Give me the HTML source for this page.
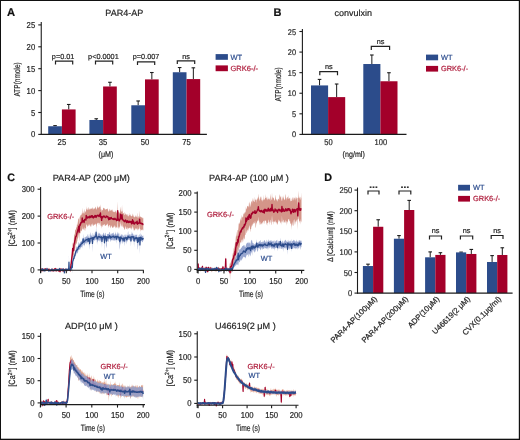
<!DOCTYPE html>
<html><head><meta charset="utf-8"><style>
html,body{margin:0;padding:0;background:#fff;}
body{width:520px;height:440px;overflow:hidden;}
svg{display:block;}
text{font-family:"Liberation Sans",sans-serif;stroke-width:0.2;text-rendering:geometricPrecision;}
svg{filter:blur(0.3px);}
</style></head><body>
<svg width="520" height="440" viewBox="0 0 520 440" font-family="Liberation Sans, sans-serif">
<rect x="0" y="0" width="520" height="440" fill="#ffffff"/>
<text x="7" y="15.9" font-size="11.2" text-anchor="start" fill="#111" stroke="#111" font-weight="bold" >A</text>
<text x="124.3" y="16.3" font-size="9" text-anchor="middle" fill="#262626" stroke="#262626" font-weight="normal" >PAR4-AP</text>
<line x1="55.05" y1="126.25" x2="55.05" y2="125.64" stroke="#1c1c1c" stroke-width="1"/>
<line x1="53.25" y1="125.64" x2="56.85" y2="125.64" stroke="#1c1c1c" stroke-width="1.1"/>
<line x1="68.75" y1="109.43" x2="68.75" y2="104.48" stroke="#1c1c1c" stroke-width="1"/>
<line x1="66.95" y1="104.48" x2="70.55" y2="104.48" stroke="#1c1c1c" stroke-width="1.1"/>
<rect x="48.2" y="126.25" width="13.7" height="8.15" fill="#2c4c8b"/>
<rect x="61.9" y="109.43" width="13.7" height="24.97" fill="#a3002a"/>
<line x1="96.25" y1="119.99" x2="96.25" y2="118.76" stroke="#1c1c1c" stroke-width="1"/>
<line x1="94.45" y1="118.76" x2="98.05" y2="118.76" stroke="#1c1c1c" stroke-width="1.1"/>
<line x1="109.95" y1="86.48" x2="109.95" y2="82.28" stroke="#1c1c1c" stroke-width="1"/>
<line x1="108.15" y1="82.28" x2="111.75" y2="82.28" stroke="#1c1c1c" stroke-width="1.1"/>
<rect x="89.4" y="119.99" width="13.7" height="14.41" fill="#2c4c8b"/>
<rect x="103.1" y="86.48" width="13.7" height="47.92" fill="#a3002a"/>
<line x1="138.15" y1="105.27" x2="138.15" y2="100.98" stroke="#1c1c1c" stroke-width="1"/>
<line x1="136.35" y1="100.98" x2="139.95" y2="100.98" stroke="#1c1c1c" stroke-width="1.1"/>
<line x1="151.85" y1="79.39" x2="151.85" y2="72.51" stroke="#1c1c1c" stroke-width="1"/>
<line x1="150.05" y1="72.51" x2="153.65" y2="72.51" stroke="#1c1c1c" stroke-width="1.1"/>
<rect x="131.3" y="105.27" width="13.7" height="29.13" fill="#2c4c8b"/>
<rect x="145" y="79.39" width="13.7" height="55.01" fill="#a3002a"/>
<line x1="179.65" y1="72.25" x2="179.65" y2="67.52" stroke="#1c1c1c" stroke-width="1"/>
<line x1="177.85" y1="67.52" x2="181.45" y2="67.52" stroke="#1c1c1c" stroke-width="1.1"/>
<line x1="193.35" y1="79.08" x2="193.35" y2="67.82" stroke="#1c1c1c" stroke-width="1"/>
<line x1="191.55" y1="67.82" x2="195.15" y2="67.82" stroke="#1c1c1c" stroke-width="1.1"/>
<rect x="172.8" y="72.25" width="13.7" height="62.15" fill="#2c4c8b"/>
<rect x="186.5" y="79.08" width="13.7" height="55.32" fill="#a3002a"/>
<line x1="41.25" y1="21.9" x2="41.25" y2="134.9" stroke="#1c1c1c" stroke-width="1.1"/>
<line x1="38.25" y1="134.4" x2="41.25" y2="134.4" stroke="#1c1c1c" stroke-width="1.1"/>
<g transform="translate(35.2,137.4) scale(0.9,1)"><text x="0" y="0" font-size="8.6" text-anchor="end" fill="#262626" stroke="#262626">0</text></g>
<line x1="38.25" y1="112.5" x2="41.25" y2="112.5" stroke="#1c1c1c" stroke-width="1.1"/>
<g transform="translate(35.2,115.5) scale(0.9,1)"><text x="0" y="0" font-size="8.6" text-anchor="end" fill="#262626" stroke="#262626">5</text></g>
<line x1="38.25" y1="90.6" x2="41.25" y2="90.6" stroke="#1c1c1c" stroke-width="1.1"/>
<g transform="translate(35.2,93.6) scale(0.9,1)"><text x="0" y="0" font-size="8.6" text-anchor="end" fill="#262626" stroke="#262626">10</text></g>
<line x1="38.25" y1="68.7" x2="41.25" y2="68.7" stroke="#1c1c1c" stroke-width="1.1"/>
<g transform="translate(35.2,71.7) scale(0.9,1)"><text x="0" y="0" font-size="8.6" text-anchor="end" fill="#262626" stroke="#262626">15</text></g>
<line x1="38.25" y1="46.8" x2="41.25" y2="46.8" stroke="#1c1c1c" stroke-width="1.1"/>
<g transform="translate(35.2,49.8) scale(0.9,1)"><text x="0" y="0" font-size="8.6" text-anchor="end" fill="#262626" stroke="#262626">20</text></g>
<line x1="38.25" y1="24.9" x2="41.25" y2="24.9" stroke="#1c1c1c" stroke-width="1.1"/>
<g transform="translate(35.2,27.9) scale(0.9,1)"><text x="0" y="0" font-size="8.6" text-anchor="end" fill="#262626" stroke="#262626">25</text></g>
<line x1="40.7" y1="134.4" x2="206.9" y2="134.4" stroke="#1c1c1c" stroke-width="1.1"/>
<g transform="translate(61.9,144.7) scale(0.9,1)"><text x="0" y="0" font-size="8.6" text-anchor="middle" fill="#262626" stroke="#262626">25</text></g>
<g transform="translate(103.1,144.7) scale(0.9,1)"><text x="0" y="0" font-size="8.6" text-anchor="middle" fill="#262626" stroke="#262626">35</text></g>
<g transform="translate(145,144.7) scale(0.9,1)"><text x="0" y="0" font-size="8.6" text-anchor="middle" fill="#262626" stroke="#262626">50</text></g>
<g transform="translate(186.5,144.7) scale(0.9,1)"><text x="0" y="0" font-size="8.6" text-anchor="middle" fill="#262626" stroke="#262626">75</text></g>
<g transform="translate(106,156.8) scale(0.87,1)"><text x="0" y="0" font-size="8.2" text-anchor="middle" fill="#262626" stroke="#262626">(&#956;M)</text></g>
<g transform="translate(20,79.4) rotate(-90) scale(0.76,1)"><text x="0" y="0" font-size="8.6" text-anchor="middle" fill="#262626" stroke="#262626">ATP(nmole)</text></g>
<path d="M55.5 64.4V61.2H72.7V64.4" fill="none" stroke="#222" stroke-width="1.2" stroke-linejoin="miter" stroke-linecap="butt"/>
<text x="63.1" y="58.5" font-size="7.3" text-anchor="middle" fill="#262626" stroke="#262626" font-weight="normal" >p=0.01</text>
<path d="M95.5 64.4V61.2H112.7V64.4" fill="none" stroke="#222" stroke-width="1.2" stroke-linejoin="miter" stroke-linecap="butt"/>
<text x="103.4" y="58.5" font-size="7.3" text-anchor="middle" fill="#262626" stroke="#262626" font-weight="normal" >p&lt;0.0001</text>
<path d="M137.5 65V61.8H154.7V65" fill="none" stroke="#222" stroke-width="1.2" stroke-linejoin="miter" stroke-linecap="butt"/>
<text x="146.1" y="58.5" font-size="7.3" text-anchor="middle" fill="#262626" stroke="#262626" font-weight="normal" >p=0.007</text>
<path d="M177.3 64V60.8H194.7V64" fill="none" stroke="#222" stroke-width="1.2" stroke-linejoin="miter" stroke-linecap="butt"/>
<text x="186" y="58.5" font-size="7.3" text-anchor="middle" fill="#262626" stroke="#262626" font-weight="normal" >ns</text>
<rect x="215.6" y="54.1" width="12.3" height="5.7" fill="#2c4c8b"/>
<rect x="215.6" y="65.4" width="12.3" height="5.8" fill="#a3002a"/>
<text x="230.5" y="59.7" font-size="7.5" text-anchor="start" fill="#2f4f8f" stroke="#2f4f8f" font-weight="normal" >WT</text>
<text x="230.5" y="71.2" font-size="7.5" text-anchor="start" fill="#b0203f" stroke="#b0203f" font-weight="normal" >GRK6-/-</text>
<text x="273.6" y="16" font-size="11" text-anchor="start" fill="#111" stroke="#111" font-weight="bold" >B</text>
<text x="334.6" y="16.3" font-size="9" text-anchor="start" fill="#262626" stroke="#262626" font-weight="normal" >convulxin</text>
<line x1="319.55" y1="85.42" x2="319.55" y2="79.41" stroke="#1c1c1c" stroke-width="1"/>
<line x1="317.75" y1="79.41" x2="321.35" y2="79.41" stroke="#1c1c1c" stroke-width="1.1"/>
<line x1="336.65" y1="97.11" x2="336.65" y2="84.02" stroke="#1c1c1c" stroke-width="1"/>
<line x1="334.85" y1="84.02" x2="338.45" y2="84.02" stroke="#1c1c1c" stroke-width="1.1"/>
<rect x="311" y="85.42" width="17.1" height="48.98" fill="#2c4c8b"/>
<rect x="328.1" y="97.11" width="17.1" height="37.29" fill="#a3002a"/>
<line x1="371.85" y1="64.02" x2="371.85" y2="55" stroke="#1c1c1c" stroke-width="1"/>
<line x1="370.05" y1="55" x2="373.65" y2="55" stroke="#1c1c1c" stroke-width="1.1"/>
<line x1="388.95" y1="81.26" x2="388.95" y2="72.74" stroke="#1c1c1c" stroke-width="1"/>
<line x1="387.15" y1="72.74" x2="390.75" y2="72.74" stroke="#1c1c1c" stroke-width="1.1"/>
<rect x="363.3" y="64.02" width="17.1" height="70.38" fill="#2c4c8b"/>
<rect x="380.4" y="81.26" width="17.1" height="53.14" fill="#a3002a"/>
<line x1="302.4" y1="29" x2="302.4" y2="134.9" stroke="#1c1c1c" stroke-width="1.1"/>
<line x1="299.4" y1="134.4" x2="302.4" y2="134.4" stroke="#1c1c1c" stroke-width="1.1"/>
<g transform="translate(296,137.4) scale(0.9,1)"><text x="0" y="0" font-size="8.2" text-anchor="end" fill="#262626" stroke="#262626">0</text></g>
<line x1="299.4" y1="113.82" x2="302.4" y2="113.82" stroke="#1c1c1c" stroke-width="1.1"/>
<g transform="translate(296,116.82) scale(0.9,1)"><text x="0" y="0" font-size="8.2" text-anchor="end" fill="#262626" stroke="#262626">5</text></g>
<line x1="299.4" y1="93.24" x2="302.4" y2="93.24" stroke="#1c1c1c" stroke-width="1.1"/>
<g transform="translate(296,96.24) scale(0.9,1)"><text x="0" y="0" font-size="8.2" text-anchor="end" fill="#262626" stroke="#262626">10</text></g>
<line x1="299.4" y1="72.66" x2="302.4" y2="72.66" stroke="#1c1c1c" stroke-width="1.1"/>
<g transform="translate(296,75.66) scale(0.9,1)"><text x="0" y="0" font-size="8.2" text-anchor="end" fill="#262626" stroke="#262626">15</text></g>
<line x1="299.4" y1="52.08" x2="302.4" y2="52.08" stroke="#1c1c1c" stroke-width="1.1"/>
<g transform="translate(296,55.08) scale(0.9,1)"><text x="0" y="0" font-size="8.2" text-anchor="end" fill="#262626" stroke="#262626">20</text></g>
<line x1="299.4" y1="31.5" x2="302.4" y2="31.5" stroke="#1c1c1c" stroke-width="1.1"/>
<g transform="translate(296,34.5) scale(0.9,1)"><text x="0" y="0" font-size="8.2" text-anchor="end" fill="#262626" stroke="#262626">25</text></g>
<line x1="301.9" y1="134.4" x2="406.5" y2="134.4" stroke="#1c1c1c" stroke-width="1.1"/>
<g transform="translate(328.5,144.5) scale(0.9,1)"><text x="0" y="0" font-size="8.4" text-anchor="middle" fill="#262626" stroke="#262626">50</text></g>
<g transform="translate(380.8,144.6) scale(0.9,1)"><text x="0" y="0" font-size="8.4" text-anchor="middle" fill="#262626" stroke="#262626">100</text></g>
<g transform="translate(353.7,156.8) scale(0.87,1)"><text x="0" y="0" font-size="8.2" text-anchor="middle" fill="#262626" stroke="#262626">(ng/ml)</text></g>
<g transform="translate(281.4,84.4) rotate(-90) scale(0.76,1)"><text x="0" y="0" font-size="8.6" text-anchor="middle" fill="#262626" stroke="#262626">ATP(nmole)</text></g>
<path d="M319.8 75.2V71.6H337.5V75.2" fill="none" stroke="#222" stroke-width="1.2" stroke-linejoin="miter" stroke-linecap="butt"/>
<text x="328.8" y="69.4" font-size="7.3" text-anchor="middle" fill="#262626" stroke="#262626" font-weight="normal" >ns</text>
<path d="M371.3 49.9V46.3H389.6V49.9" fill="none" stroke="#222" stroke-width="1.2" stroke-linejoin="miter" stroke-linecap="butt"/>
<text x="380.6" y="43.8" font-size="7.3" text-anchor="middle" fill="#262626" stroke="#262626" font-weight="normal" >ns</text>
<rect x="426" y="54.6" width="12.1" height="5.7" fill="#2c4c8b"/>
<rect x="426" y="65.9" width="12.1" height="5.7" fill="#a3002a"/>
<text x="441" y="59.8" font-size="7.4" text-anchor="start" fill="#2f4f8f" stroke="#2f4f8f" font-weight="normal" >WT</text>
<text x="441" y="71.3" font-size="7.4" text-anchor="start" fill="#b0203f" stroke="#b0203f" font-weight="normal" >GRK6-/-</text>
<text x="7.3" y="180.6" font-size="10.8" text-anchor="start" fill="#111" stroke="#111" font-weight="bold" >C</text>
<text x="52.7" y="181.1" font-size="9.1" text-anchor="start" fill="#262626" stroke="#262626" font-weight="normal" >PAR4-AP (200 &#956;M)</text>
<polygon points="40.6,269.65 40.91,269.25 41.22,269.23 41.53,269.42 41.83,268.23 42.14,270.29 42.45,268.64 42.76,268.67 43.07,269.61 43.38,269.41 43.68,269.3 43.99,267.97 44.3,268.89 44.61,268.23 44.92,268.66 45.23,268.02 45.53,268.61 45.84,268.26 46.15,268.01 46.46,267.88 46.77,268.32 47.08,267.57 47.38,268.65 47.69,268.31 48,268.38 48.31,267.98 48.62,268.77 48.93,269.4 49.24,267.86 49.54,268.15 49.85,268.54 50.16,269.47 50.47,269.18 50.78,269.48 51.09,269.22 51.39,268.96 51.7,268.98 52.01,270.03 52.32,268.73 52.63,268.26 52.94,268.02 53.24,269.75 53.55,268.2 53.86,269.33 54.17,268.88 54.48,268.36 54.79,268.32 55.09,267.48 55.4,270.09 55.71,267.31 56.02,268.71 56.33,268.67 56.64,269.73 56.95,269.57 57.25,269.02 57.56,268.63 57.87,268.23 58.18,268.92 58.49,269.09 58.8,270.3 59.1,269.7 59.41,269.45 59.72,269.6 60.03,270.9 60.34,267.69 60.65,268.12 60.95,268.77 61.26,268.04 61.57,269.01 61.88,268.59 62.19,268.96 62.5,269.37 62.8,269.51 63.11,269.84 63.42,268.45 63.73,269.03 64.04,268.69 64.35,270.94 64.66,269.04 64.96,268.78 65.27,268.64 65.58,268.74 65.89,268.97 66.2,268.9 66.51,268.24 66.81,268.77 67.12,269.37 67.43,268.87 67.74,269.27 68.05,268.82 68.36,268.41 68.66,269.09 68.97,269.04 69.28,269.05 69.59,269.05 69.9,269.71 70.21,269.85 70.51,266.93 70.82,263.41 71.13,262.28 71.44,257.66 71.75,255.17 72.06,250.35 72.37,249.41 72.67,242.15 72.98,243.98 73.29,244.84 73.6,245.17 73.91,238.23 74.22,233.6 74.52,235.77 74.83,233.64 75.14,229.6 75.45,230.37 75.76,229.6 76.07,228.31 76.37,227.37 76.68,227.29 76.99,224.11 77.3,225.14 77.61,223.45 77.92,221.54 78.22,218.08 78.53,218.84 78.84,219.19 79.15,226.04 79.46,219.16 79.77,216.7 80.08,216.8 80.38,215.89 80.69,214.86 81,215.56 81.31,214.66 81.62,214.53 81.93,213.07 82.23,207.38 82.54,214.19 82.85,212.79 83.16,213.38 83.47,210.97 83.78,213.31 84.08,213.78 84.39,213.09 84.7,208.38 85.01,211.14 85.32,212.08 85.63,210.78 85.93,212.95 86.24,206.01 86.55,210.11 86.86,208.8 87.17,210.62 87.48,207.86 87.79,209.85 88.09,210.16 88.4,208.94 88.71,206.5 89.02,209.36 89.33,210.02 89.64,208.73 89.94,208.43 90.25,208.36 90.56,209.5 90.87,209.04 91.18,208.58 91.49,208.77 91.79,208.41 92.1,208.61 92.41,207.05 92.72,208.52 93.03,210.11 93.34,208.2 93.64,209.46 93.95,207.96 94.26,208.66 94.57,208.99 94.88,208.1 95.19,207.58 95.5,206.38 95.8,207.66 96.11,210.03 96.42,209.07 96.73,208.75 97.04,207.67 97.35,206.73 97.65,205.39 97.96,208.28 98.27,207.36 98.58,207.33 98.89,208.7 99.2,206.08 99.5,207.53 99.81,206.24 100.12,207.11 100.43,204.24 100.74,209.69 101.05,208.97 101.35,209.72 101.66,212.22 101.97,209.47 102.28,210.19 102.59,210.38 102.9,209.71 103.21,207.5 103.51,208.51 103.82,207.65 104.13,208.14 104.44,208.35 104.75,209.05 105.06,209.9 105.36,209.83 105.67,208.86 105.98,209.57 106.29,208.96 106.6,209.16 106.91,209 107.21,207.93 107.52,209.41 107.83,209 108.14,210.24 108.45,211.16 108.76,211.86 109.06,211.37 109.37,208.83 109.68,209.12 109.99,211.57 110.3,209.46 110.61,210.35 110.92,211.18 111.22,209.18 111.53,210.48 111.84,209.93 112.15,211.96 112.46,210.12 112.77,209.19 113.07,212.3 113.38,211.95 113.69,211.34 114,211.69 114.31,211.76 114.62,212.6 114.92,211.66 115.23,211.69 115.54,211.3 115.85,210.19 116.16,211.48 116.47,212.87 116.77,213.54 117.08,210.24 117.39,213.56 117.7,201.15 118.01,211.93 118.32,211.97 118.63,211.23 118.93,212.9 119.24,212.49 119.55,212.26 119.86,213.46 120.17,210.99 120.48,206.43 120.78,209.85 121.09,211.46 121.4,211.61 121.71,211.66 122.02,204.77 122.33,212.06 122.63,210.29 122.94,213.71 123.25,213 123.56,213.38 123.87,213.44 124.18,211.38 124.48,215.12 124.79,215.13 125.1,213.93 125.41,212.98 125.72,214.54 126.03,214.56 126.34,215.56 126.64,213.75 126.95,214.71 127.26,214.07 127.57,215.37 127.88,216.14 128.19,216.32 128.49,216.55 128.8,215.44 129.11,212.47 129.42,215.77 129.73,214.65 130.04,215.35 130.34,216.07 130.65,213.87 130.96,215.69 131.27,216.19 131.58,215.83 131.89,216.75 132.19,215.8 132.5,213.25 132.81,214.99 133.12,217.16 133.43,214.34 133.74,216.2 134.05,216.82 134.35,216.8 134.66,217.67 134.97,216.78 135.28,215.05 135.59,216.39 135.9,216.92 136.2,215.97 136.51,217.34 136.82,216.72 137.13,212.44 137.44,216.59 137.75,217.44 138.05,218.15 138.36,217.57 138.67,215.88 138.98,216.43 139.29,216.88 139.6,210.41 139.9,217.33 140.21,216.26 140.52,217.24 140.83,216.53 141.14,217.07 141.45,216.99 141.76,217.78 142.06,217.9 142.37,218.45 142.68,216.94 142.99,218.61 143.3,217.57 143.3,230.72 142.99,229.77 142.68,229.57 142.37,229.39 142.06,230.69 141.76,229.53 141.45,230.48 141.14,229.85 140.83,228.81 140.52,229.77 140.21,231.98 139.9,228.74 139.6,224.5 139.29,228.6 138.98,228.87 138.67,228.83 138.36,229.34 138.05,230.42 137.75,228.85 137.44,230.89 137.13,227.34 136.82,228.27 136.51,229.06 136.2,229.82 135.9,227.75 135.59,229.94 135.28,228.12 134.97,229.64 134.66,230.95 134.35,229.58 134.05,230.02 133.74,228.45 133.43,227.06 133.12,231.19 132.81,227.3 132.5,225.34 132.19,227.52 131.89,228.95 131.58,230.06 131.27,227.57 130.96,228.27 130.65,227.11 130.34,228.79 130.04,228.38 129.73,227.49 129.42,227.83 129.11,228.36 128.8,228.04 128.49,229.03 128.19,228.07 127.88,229.92 127.57,228.03 127.26,227.1 126.95,229.2 126.64,228.42 126.34,229.37 126.03,227.08 125.72,226.12 125.41,229.06 125.1,226.25 124.79,229.69 124.48,229.6 124.18,229.44 123.87,227.17 123.56,228.19 123.25,226.26 122.94,226.83 122.63,226.74 122.33,224.99 122.02,221.13 121.71,226.47 121.4,226.45 121.09,224.97 120.78,224.05 120.48,220.96 120.17,226.25 119.86,226.39 119.55,227.06 119.24,228.7 118.93,226.57 118.63,227.94 118.32,229.03 118.01,225.64 117.7,215.18 117.39,226.82 117.08,228.31 116.77,226.73 116.47,228.48 116.16,226.4 115.85,228.53 115.54,227.39 115.23,226.59 114.92,224.95 114.62,225.89 114.31,226.73 114,226.98 113.69,227.72 113.38,227.18 113.07,225.96 112.77,228.14 112.46,227.3 112.15,228.35 111.84,225.47 111.53,225.74 111.22,227.27 110.92,225.1 110.61,228.41 110.3,227.14 109.99,227.41 109.68,224.67 109.37,225.09 109.06,225.26 108.76,228.22 108.45,226.07 108.14,225.66 107.83,224.88 107.52,223.72 107.21,223.39 106.91,224.68 106.6,225.34 106.29,224.19 105.98,226.1 105.67,225.86 105.36,225.71 105.06,224.98 104.75,224.16 104.44,223.8 104.13,225.9 103.82,224.94 103.51,224.28 103.21,225.61 102.9,224.51 102.59,226.37 102.28,227.13 101.97,224.33 101.66,228.74 101.35,225.9 101.05,226.36 100.74,224.99 100.43,219.96 100.12,226.71 99.81,222.92 99.5,222.77 99.2,224.55 98.89,225.12 98.58,222.58 98.27,222.95 97.96,222.69 97.65,224.22 97.35,222.5 97.04,223.46 96.73,224.62 96.42,228.28 96.11,225.89 95.8,224.48 95.5,223.54 95.19,223.84 94.88,225.07 94.57,225.03 94.26,223.81 93.95,225.7 93.64,224.33 93.34,225.74 93.03,226.37 92.72,224.7 92.41,223 92.1,225.11 91.79,224.35 91.49,224.3 91.18,226.91 90.87,225.41 90.56,227.36 90.25,226 89.94,223.54 89.64,225.58 89.33,225.58 89.02,224.26 88.71,224.62 88.4,225.67 88.09,226.32 87.79,225.07 87.48,227.07 87.17,226.41 86.86,225.1 86.55,224.87 86.24,223.69 85.93,231.48 85.63,228.49 85.32,227.88 85.01,228.53 84.7,226.41 84.39,229.87 84.08,230.86 83.78,228.83 83.47,228.3 83.16,229.96 82.85,229.23 82.54,229.29 82.23,226.22 81.93,230.77 81.62,231.39 81.31,230.48 81,230.34 80.69,230.86 80.38,233.67 80.08,233.11 79.77,233.11 79.46,234.48 79.15,241.73 78.84,233.51 78.53,234.72 78.22,237.17 77.92,238.71 77.61,238.28 77.3,240.92 76.99,241.42 76.68,244.17 76.37,242.9 76.07,244.62 75.76,244.42 75.45,245.59 75.14,249.09 74.83,247.73 74.52,251.23 74.22,250.89 73.91,254.21 73.6,256.86 73.29,255.26 72.98,255.67 72.67,255.23 72.37,257.69 72.06,261.9 71.75,262.04 71.44,264.31 71.13,269.42 70.82,270.58 70.51,272.18 70.21,271.6 69.9,271.14 69.59,270.75 69.28,270.74 68.97,270.6 68.66,271.13 68.36,270.4 68.05,270.57 67.74,271.69 67.43,270.76 67.12,271.07 66.81,270.6 66.51,271.02 66.2,271.58 65.89,270.98 65.58,270.88 65.27,270.25 64.96,270.99 64.66,271.32 64.35,272.44 64.04,270.12 63.73,270.81 63.42,269.83 63.11,272.31 62.8,271.2 62.5,271.21 62.19,271.88 61.88,270.5 61.57,271.74 61.26,270.39 60.95,270.65 60.65,269.84 60.34,270.23 60.03,273.08 59.72,270.73 59.41,270.84 59.1,271.3 58.8,271.56 58.49,271.42 58.18,270.67 57.87,270.87 57.56,271.14 57.25,270.58 56.95,272.18 56.64,271.39 56.33,270.84 56.02,270.03 55.71,270.09 55.4,271.72 55.09,269.89 54.79,270.11 54.48,270.47 54.17,271.01 53.86,271.7 53.55,270.88 53.24,271.73 52.94,271.81 52.63,270.3 52.32,270.04 52.01,271.3 51.7,271.37 51.39,270.42 51.09,270.65 50.78,271.06 50.47,270.87 50.16,271.7 49.85,270.78 49.54,270.89 49.24,270.62 48.93,271.84 48.62,270.3 48.31,270.5 48,271.49 47.69,270.37 47.38,270.34 47.08,270.91 46.77,271.29 46.46,270.09 46.15,269.98 45.84,270.47 45.53,270.1 45.23,269.67 44.92,270.85 44.61,270.33 44.3,271.45 43.99,270.32 43.68,271.42 43.38,271 43.07,271.83 42.76,270.54 42.45,270.19 42.14,271.88 41.83,269.69 41.53,270.7 41.22,271.08 40.91,271.17 40.6,271.56" fill="#cf8a7c" fill-opacity="0.9" stroke="none"/>
<polyline points="40.6,270.39 40.91,270.04 41.22,270.46 41.53,270.02 41.83,268.92 42.14,270.69 42.45,269.29 42.76,270 43.07,270.27 43.38,270.1 43.68,270.04 43.99,269.51 44.3,269.43 44.61,269.45 44.92,269.62 45.23,268.86 45.53,269.26 45.84,269.12 46.15,269.11 46.46,269.37 46.77,269.92 47.08,269.42 47.38,269.59 47.69,269.45 48,269.65 48.31,269.48 48.62,269.59 48.93,270.03 49.24,269.64 49.54,270.02 49.85,269.92 50.16,270.39 50.47,269.88 50.78,270.34 51.09,269.8 51.39,269.76 51.7,270.38 52.01,270.66 52.32,269.4 52.63,269.67 52.94,270.43 53.24,270.35 53.55,269.89 53.86,270.69 54.17,269.95 54.48,269.57 54.79,268.9 55.09,268.98 55.4,270.64 55.71,268.76 56.02,269.33 56.33,269.86 56.64,270.67 56.95,270.52 57.25,269.92 57.56,269.71 57.87,270.04 58.18,269.59 58.49,270.07 58.8,270.96 59.1,270.35 59.41,270.27 59.72,270.17 60.03,271.54 60.34,269.5 60.65,269.26 60.95,269.64 61.26,269.25 61.57,270.14 61.88,269.53 62.19,270.34 62.5,270.47 62.8,270.34 63.11,270.65 63.42,269.17 63.73,269.88 64.04,269.51 64.35,271.3 64.66,270.4 64.96,269.76 65.27,269.39 65.58,269.5 65.89,270.01 66.2,270.09 66.51,269.79 66.81,269.92 67.12,269.99 67.43,269.98 67.74,270 68.05,269.43 68.36,269.36 68.66,269.9 68.97,269.71 69.28,269.77 69.59,270.18 69.9,270.24 70.21,270.5 70.51,268.79 70.82,266.54 71.13,264.46 71.44,260.89 71.75,258.66 72.06,256.17 72.37,253.25 72.67,248.55 72.98,251.13 73.29,249.73 73.6,250.4 73.91,244.88 74.22,243.33 74.52,242.88 74.83,240.71 75.14,239.56 75.45,237.69 75.76,236.62 76.07,236.43 76.37,235.49 76.68,234.38 76.99,232.62 77.3,232.29 77.61,231.05 77.92,229.99 78.22,228.93 78.53,227.4 78.84,226.19 79.15,232.1 79.46,226.48 79.77,225.52 80.08,224.22 80.38,225.11 80.69,222.89 81,222.98 81.31,222.23 81.62,222.68 81.93,222.57 82.23,218.04 82.54,221.7 82.85,221.44 83.16,220.58 83.47,220.91 83.78,220.79 84.08,222.46 84.39,220.43 84.7,219.36 85.01,219.32 85.32,219.89 85.63,219.68 85.93,219.98 86.24,215.35 86.55,217.71 86.86,217.04 87.17,217.98 87.48,217.94 87.79,216.97 88.09,217.72 88.4,216.86 88.71,217.13 89.02,216.95 89.33,217.74 89.64,216.27 89.94,216.1 90.25,216.98 90.56,217.09 90.87,217.52 91.18,216.87 91.49,215.78 91.79,216.55 92.1,216.19 92.41,215.82 92.72,217.44 93.03,217.68 93.34,217.92 93.64,216.79 93.95,216.61 94.26,216.63 94.57,217.13 94.88,215.57 95.19,216 95.5,215.49 95.8,216.88 96.11,217.41 96.42,216.33 96.73,216.44 97.04,215.96 97.35,215.26 97.65,215.44 97.96,215.45 98.27,215.31 98.58,215.52 98.89,216.45 99.2,216.44 99.5,215.66 99.81,214.44 100.12,214.86 100.43,212.96 100.74,217.21 101.05,217.09 101.35,216.92 101.66,220.38 101.97,216.62 102.28,217.41 102.59,217.76 102.9,217.02 103.21,216.12 103.51,216.73 103.82,216.13 104.13,216.03 104.44,216.8 104.75,217.07 105.06,217.08 105.36,217.56 105.67,217.55 105.98,217.44 106.29,215.98 106.6,216.56 106.91,216.45 107.21,216.51 107.52,216.66 107.83,216.52 108.14,218.02 108.45,217.98 108.76,219.7 109.06,218.17 109.37,218.3 109.68,217.71 109.99,219.3 110.3,218.02 110.61,218.18 110.92,218.49 111.22,217.48 111.53,218.37 111.84,218.42 112.15,218.9 112.46,218.74 112.77,218.97 113.07,219.34 113.38,218.57 113.69,218.99 114,219.53 114.31,219.12 114.62,219.37 114.92,218.27 115.23,218.8 115.54,219.36 115.85,219.17 116.16,219.2 116.47,220.54 116.77,220.01 117.08,219.88 117.39,220.27 117.7,210.72 118.01,219.28 118.32,219.65 118.63,219.01 118.93,220.4 119.24,220.93 119.55,219.76 119.86,219.79 120.17,218.87 120.48,214.26 120.78,217.66 121.09,218.32 121.4,218.89 121.71,218.32 122.02,214.82 122.33,218.2 122.63,219.81 122.94,219.88 123.25,219.97 123.56,220.88 123.87,220.66 124.18,221.12 124.48,221.68 124.79,220.96 125.1,220.42 125.41,220.1 125.72,220.34 126.03,221.33 126.34,222.1 126.64,222.59 126.95,222.2 127.26,220.67 127.57,222.05 127.88,222.17 128.19,221.96 128.49,222.56 128.8,221.26 129.11,221.22 129.42,222.19 129.73,221.56 130.04,222.25 130.34,222.18 130.65,221.47 130.96,221.92 131.27,221.76 131.58,223.86 131.89,222.49 132.19,221.8 132.5,219.81 132.81,221.52 133.12,223.44 133.43,221.29 133.74,222 134.05,223.52 134.35,224.05 134.66,223.79 134.97,223 135.28,222.75 135.59,222.47 135.9,222.2 136.2,222.34 136.51,223.14 136.82,222.5 137.13,221.25 137.44,224.21 137.75,223.48 138.05,223.51 138.36,223.02 138.67,223.35 138.98,222.86 139.29,222.85 139.6,219.13 139.9,222.65 140.21,223.38 140.52,223.22 140.83,223.12 141.14,223.85 141.45,223.3 141.76,223.6 142.06,223.63 142.37,223.89 142.68,223.83 142.99,224.65 143.3,224.3" fill="none" stroke="#a3002a" stroke-opacity="1" stroke-width="1.4" stroke-linejoin="round"/>
<polygon points="40.6,270.09 40.91,269.73 41.22,269.27 41.53,269.37 41.83,268.75 42.14,269.65 42.45,268.39 42.76,268.16 43.07,268.53 43.38,271.14 43.68,269.21 43.99,268.68 44.3,269.39 44.61,269.46 44.92,271.12 45.23,268.93 45.53,268.82 45.84,269.11 46.15,268.97 46.46,267.61 46.77,267.77 47.08,268.19 47.38,268.59 47.69,267.42 48,269.57 48.31,270.26 48.62,270.44 48.93,270.09 49.24,268.9 49.54,270.41 49.85,269.56 50.16,268.87 50.47,270.19 50.78,269.23 51.09,269.1 51.39,268.38 51.7,268.29 52.01,269.32 52.32,269.4 52.63,269.7 52.94,269.51 53.24,269.48 53.55,269.1 53.86,269.93 54.17,270.21 54.48,269.67 54.79,269.55 55.09,268.81 55.4,268.89 55.71,269.15 56.02,268.97 56.33,268.59 56.64,269.15 56.95,269.09 57.25,268.67 57.56,268.61 57.87,269.38 58.18,269.26 58.49,269.02 58.8,268.78 59.1,269.01 59.41,267.44 59.72,267.78 60.03,268.73 60.34,269.56 60.65,269.16 60.95,268.88 61.26,269.01 61.57,270.05 61.88,269.57 62.19,269.87 62.5,268.5 62.8,268.51 63.11,268.72 63.42,268.98 63.73,268.71 64.04,269.34 64.35,273.66 64.66,269.7 64.96,268.63 65.27,268.89 65.58,268.39 65.89,269.02 66.2,269.81 66.51,267.83 66.81,268.57 67.12,269.15 67.43,269.88 67.74,268.71 68.05,268.52 68.36,268.98 68.66,268.87 68.97,255.37 69.28,268.29 69.59,269.16 69.9,269.32 70.21,268.82 70.51,269.09 70.82,269.17 71.13,266.94 71.44,266.92 71.75,265.67 72.06,262.98 72.37,266.85 72.67,260.53 72.98,259.26 73.29,258.16 73.6,256.08 73.91,255.5 74.22,253.37 74.52,253.79 74.83,254.09 75.14,252.4 75.45,249.99 75.76,249.65 76.07,247.74 76.37,245.99 76.68,248.16 76.99,246.01 77.3,246.44 77.61,247.17 77.92,246.98 78.22,245.69 78.53,243.08 78.84,241.7 79.15,243.29 79.46,243.44 79.77,244.34 80.08,243.14 80.38,241.53 80.69,242.1 81,241.38 81.31,241.3 81.62,241.28 81.93,240.68 82.23,237.77 82.54,240 82.85,239.18 83.16,233.18 83.47,239.5 83.78,237.4 84.08,239.08 84.39,239.27 84.7,236.92 85.01,237.3 85.32,236.54 85.63,237.63 85.93,237.11 86.24,236.13 86.55,235.76 86.86,237.37 87.17,237.11 87.48,234.54 87.79,234.31 88.09,239.74 88.4,236.19 88.71,236.34 89.02,233.31 89.33,239.16 89.64,244.83 89.94,234.06 90.25,235.9 90.56,233.72 90.87,232.11 91.18,235.11 91.49,235.97 91.79,235.8 92.1,234.98 92.41,243.73 92.72,233.34 93.03,232.93 93.34,238.49 93.64,234.31 93.95,235 94.26,235.45 94.57,235.27 94.88,232.17 95.19,234.87 95.5,234.06 95.8,233.18 96.11,226.57 96.42,233.27 96.73,234.44 97.04,238.08 97.35,232.11 97.65,236.28 97.96,234.67 98.27,234.11 98.58,233.13 98.89,232.13 99.2,233.1 99.5,234.15 99.81,232.81 100.12,234.76 100.43,234.65 100.74,233.5 101.05,235.73 101.35,234.17 101.66,234.79 101.97,241.24 102.28,235.3 102.59,234.25 102.9,234.79 103.21,232.29 103.51,233.13 103.82,233.55 104.13,233.47 104.44,245.93 104.75,234.37 105.06,233.24 105.36,232.71 105.67,233.54 105.98,239.21 106.29,240.38 106.6,241.71 106.91,234.28 107.21,233.73 107.52,234.25 107.83,234.24 108.14,234.07 108.45,234.05 108.76,233.96 109.06,232.15 109.37,232.25 109.68,231.63 109.99,234.65 110.3,234.42 110.61,234.66 110.92,233.02 111.22,234.63 111.53,232.75 111.84,234.43 112.15,233.91 112.46,232.84 112.77,233.3 113.07,233.11 113.38,232.33 113.69,233.29 114,234.74 114.31,234.58 114.62,234.29 114.92,234.89 115.23,231.24 115.54,233.77 115.85,233.62 116.16,233.52 116.47,239.13 116.77,233.9 117.08,233.97 117.39,231.39 117.7,232.91 118.01,234.54 118.32,232.31 118.63,233.53 118.93,234.83 119.24,232.49 119.55,241.48 119.86,241.92 120.17,233.06 120.48,239.44 120.78,235.25 121.09,234.81 121.4,235.46 121.71,233.74 122.02,234.54 122.33,235.3 122.63,233.91 122.94,238.64 123.25,235.33 123.56,235.89 123.87,235.26 124.18,239.92 124.48,234.83 124.79,234.4 125.1,236.36 125.41,233.68 125.72,235.4 126.03,235.66 126.34,233.8 126.64,239.06 126.95,235.19 127.26,235.12 127.57,235.45 127.88,232.61 128.19,231.1 128.49,235.14 128.8,234.77 129.11,233.88 129.42,234.69 129.73,234.6 130.04,234.44 130.34,234.49 130.65,234.5 130.96,239.33 131.27,233.62 131.58,234.33 131.89,231.15 132.19,233.99 132.5,233.71 132.81,232.31 133.12,235.26 133.43,234.35 133.74,234.4 134.05,240.59 134.35,233.86 134.66,236 134.97,235.05 135.28,235.84 135.59,234.13 135.9,235.08 136.2,235.26 136.51,234.24 136.82,235.04 137.13,234.36 137.44,241.97 137.75,242.77 138.05,234.86 138.36,240.12 138.67,236.02 138.98,235.12 139.29,233.99 139.6,235.27 139.9,247.92 140.21,234.54 140.52,232.22 140.83,239.99 141.14,234.73 141.45,234.33 141.76,235.5 142.06,235.79 142.37,236.16 142.68,235.45 142.99,236.27 143.3,234.84 143.3,240.72 142.99,241.22 142.68,242.49 142.37,241.49 142.06,242.1 141.76,240.84 141.45,241.54 141.14,240.01 140.83,245.89 140.52,239.5 140.21,241.63 139.9,254.59 139.6,240.13 139.29,240.68 138.98,241.57 138.67,240.44 138.36,247.62 138.05,239.84 137.75,248.47 137.44,249.8 137.13,240.72 136.82,240.23 136.51,241.23 136.2,241.15 135.9,240.41 135.59,239.89 135.28,241.71 134.97,241.72 134.66,241.94 134.35,241.23 134.05,247.33 133.74,239.13 133.43,241 133.12,240.9 132.81,239.35 132.5,239.57 132.19,240.27 131.89,241.59 131.58,239.86 131.27,238.98 130.96,246.86 130.65,239.7 130.34,241.58 130.04,241.41 129.73,239.49 129.42,239.79 129.11,239.65 128.8,239.61 128.49,240.29 128.19,239.29 127.88,240.68 127.57,242.07 127.26,240.02 126.95,241.12 126.64,244.79 126.34,240.62 126.03,242.91 125.72,240.46 125.41,241.09 125.1,242.79 124.79,240.54 124.48,242.4 124.18,246.32 123.87,242.34 123.56,240.5 123.25,240.35 122.94,244.05 122.63,242.08 122.33,241.38 122.02,244.21 121.71,240.85 121.4,240.71 121.09,239.44 120.78,240.83 120.48,245.04 120.17,243.16 119.86,249.94 119.55,247.6 119.24,240.17 118.93,240.46 118.63,240.99 118.32,239.74 118.01,240.8 117.7,239 117.39,239.13 117.08,240.83 116.77,238.95 116.47,243.95 116.16,239.82 115.85,239.8 115.54,241.45 115.23,238.79 114.92,240.72 114.62,240.47 114.31,239.88 114,240.73 113.69,239.2 113.38,240.9 113.07,240.26 112.77,240.16 112.46,239.09 112.15,240.86 111.84,239.93 111.53,240.19 111.22,240.42 110.92,239.74 110.61,240.83 110.3,242.37 109.99,239.87 109.68,238.5 109.37,239.46 109.06,239.03 108.76,239.86 108.45,242.12 108.14,241.79 107.83,240.4 107.52,241.86 107.21,240.74 106.91,239.39 106.6,248.45 106.29,246.8 105.98,245.76 105.67,238.59 105.36,239.29 105.06,239.41 104.75,240.88 104.44,252.27 104.13,240.43 103.82,239.09 103.51,238.98 103.21,240.84 102.9,239.72 102.59,240.43 102.28,240.18 101.97,247.9 101.66,240.79 101.35,240.54 101.05,244.05 100.74,239.88 100.43,240.22 100.12,241.15 99.81,241.41 99.5,239.47 99.2,240.92 98.89,239.44 98.58,240.41 98.27,240.57 97.96,241.3 97.65,242.81 97.35,240.82 97.04,244.9 96.73,239.74 96.42,239.68 96.11,232.17 95.8,238.75 95.5,240.05 95.19,239.9 94.88,241.23 94.57,240.09 94.26,240.41 93.95,239.46 93.64,240.08 93.34,244.43 93.03,240.39 92.72,240.26 92.41,252.24 92.1,241.12 91.79,242.04 91.49,240.41 91.18,240.85 90.87,243.1 90.56,242.15 90.25,242.66 89.94,241.29 89.64,249.9 89.33,245.69 89.02,241.57 88.71,241.46 88.4,241.13 88.09,245.73 87.79,242.11 87.48,242.21 87.17,243.36 86.86,244.88 86.55,242.98 86.24,242.29 85.93,242.75 85.63,243.13 85.32,243.52 85.01,243.79 84.7,246.63 84.39,244.53 84.08,245.45 83.78,244.93 83.47,245.85 83.16,240.87 82.85,245.6 82.54,248.67 82.23,244.43 81.93,247.36 81.62,246.43 81.31,247.59 81,247.34 80.69,249.98 80.38,247.47 80.08,248.06 79.77,250.13 79.46,249.63 79.15,249.1 78.84,249.21 78.53,249.36 78.22,251.43 77.92,251.96 77.61,253.16 77.3,253.55 76.99,252.79 76.68,252.66 76.37,254.82 76.07,253.46 75.76,253.9 75.45,255.46 75.14,257.05 74.83,258.98 74.52,257.56 74.22,258.35 73.91,260.36 73.6,260.77 73.29,261.06 72.98,262.01 72.67,263.99 72.37,273.63 72.06,266.95 71.75,268.98 71.44,268.55 71.13,269.88 70.82,271.64 70.51,270.02 70.21,269.82 69.9,270.84 69.59,270.8 69.28,269.91 68.97,257.11 68.66,270.14 68.36,270.29 68.05,269.76 67.74,270.09 67.43,270.99 67.12,271.46 66.81,269.65 66.51,269.86 66.2,271.07 65.89,269.7 65.58,270.05 65.27,269.8 64.96,271.04 64.66,270.96 64.35,274.61 64.04,270.83 63.73,270.41 63.42,269.68 63.11,269.65 62.8,269.88 62.5,270.2 62.19,270.95 61.88,270.86 61.57,271.49 61.26,270.26 60.95,270.04 60.65,270.13 60.34,271.32 60.03,270.7 59.72,269.07 59.41,269.27 59.1,269.9 58.8,270.08 58.49,270.14 58.18,270.82 57.87,270.74 57.56,270.1 57.25,270.8 56.95,270 56.64,270.42 56.33,269.92 56.02,270.81 55.71,271.11 55.4,270.16 55.09,270.19 54.79,270.77 54.48,270.29 54.17,271.08 53.86,271.2 53.55,271.08 53.24,270.35 52.94,270.96 52.63,271.18 52.32,270.56 52.01,270.21 51.7,269.94 51.39,269.86 51.09,270.92 50.78,271.36 50.47,271.89 50.16,271.38 49.85,271.28 49.54,271.44 49.24,270.99 48.93,271.97 48.62,272.16 48.31,271.54 48,270.35 47.69,270.08 47.38,269.76 47.08,269.17 46.77,269.71 46.46,269.64 46.15,269.82 45.84,270.71 45.53,269.82 45.23,270.78 44.92,272.62 44.61,270.91 44.3,270.45 43.99,270.12 43.68,270.94 43.38,272.46 43.07,269.85 42.76,269.5 42.45,270.71 42.14,270.33 41.83,269.84 41.53,271.52 41.22,270.65 40.91,271.38 40.6,270.8" fill="#8e9dcb" fill-opacity="0.9" stroke="none"/>
<polyline points="40.6,270.48 40.91,270.15 41.22,270.22 41.53,270.25 41.83,269.38 42.14,269.98 42.45,269.11 42.76,268.86 43.07,269.15 43.38,270.57 43.68,269.82 43.99,269.74 44.3,270.06 44.61,270.15 44.92,271.02 45.23,269.91 45.53,269.5 45.84,269.8 46.15,269.43 46.46,269.21 46.77,269.1 47.08,268.88 47.38,269.34 47.69,269.61 48,269.85 48.31,270.61 48.62,270.82 48.93,270.64 49.24,270.44 49.54,270.77 49.85,270.59 50.16,270.52 50.47,270.73 50.78,270.48 51.09,270.06 51.39,269.5 51.7,269.1 52.01,269.77 52.32,270.04 52.63,270.44 52.94,270.29 53.24,269.9 53.55,270.14 53.86,270.81 54.17,270.59 54.48,270 54.79,270.16 55.09,269.91 55.4,269.67 55.71,270.04 56.02,269.9 56.33,269.53 56.64,269.87 56.95,269.46 57.25,269.6 57.56,269.54 57.87,270.35 58.18,269.94 58.49,269.83 58.8,269.45 59.1,269.59 59.41,268.67 59.72,268.76 60.03,269.67 60.34,270.31 60.65,269.53 60.95,269.58 61.26,269.85 61.57,270.45 61.88,270.2 62.19,270.47 62.5,269.28 62.8,269 63.11,269.14 63.42,269.34 63.73,269.6 64.04,270.53 64.35,272.9 64.66,270.53 64.96,269.94 65.27,269.24 65.58,269.31 65.89,269.32 66.2,270.36 66.51,269.34 66.81,269.09 67.12,269.91 67.43,270.16 67.74,269.5 68.05,269.25 68.36,269.71 68.66,269.39 68.97,262.15 69.28,268.95 69.59,269.81 69.9,269.59 70.21,269.14 70.51,269.4 70.82,270.02 71.13,268.77 71.44,267.87 71.75,266.65 72.06,265.4 72.37,267.3 72.67,261.96 72.98,260.71 73.29,259.53 73.6,258.46 73.91,258.68 74.22,256.27 74.52,255.91 74.83,255.76 75.14,254.4 75.45,252.6 75.76,251.66 76.07,251.34 76.37,250.34 76.68,250.44 76.99,249.72 77.3,249.27 77.61,249.68 77.92,249.26 78.22,248.12 78.53,246.86 78.84,246.11 79.15,246.02 79.46,246.47 79.77,246.54 80.08,245.53 80.38,244.71 80.69,244.92 81,244.35 81.31,243.63 81.62,243.63 81.93,242.96 82.23,242.26 82.54,243.29 82.85,242.15 83.16,238.73 83.47,242.35 83.78,241.63 84.08,241.97 84.39,241.67 84.7,240.95 85.01,240.94 85.32,240.36 85.63,240.39 85.93,239.73 86.24,239.82 86.55,239.52 86.86,239.78 87.17,239.53 87.48,239.35 87.79,239.07 88.09,241.41 88.4,238.54 88.71,238.59 89.02,238.28 89.33,240.63 89.64,243.76 89.94,239.02 90.25,238.93 90.56,238.63 90.87,238.44 91.18,237.92 91.49,238.24 91.79,238.03 92.1,238.29 92.41,243.49 92.72,237.42 93.03,237.6 93.34,239.41 93.64,237.28 93.95,237.3 94.26,237.9 94.57,237.47 94.88,236.63 95.19,237.11 95.5,236.42 95.8,236.12 96.11,232.19 96.42,236.11 96.73,236.97 97.04,238.9 97.35,237.44 97.65,238.9 97.96,236.87 98.27,237.18 98.58,236.69 98.89,236.43 99.2,237.13 99.5,236.98 99.81,236.67 100.12,237.21 100.43,237.56 100.74,237.69 101.05,237.97 101.35,236.7 101.66,237.5 101.97,241.52 102.28,237.64 102.59,237.35 102.9,237.18 103.21,237.49 103.51,236.5 103.82,235.96 104.13,236.04 104.44,242.79 104.75,236.67 105.06,236.34 105.36,236.24 105.67,236.37 105.98,239.22 106.29,241.15 106.6,241.19 106.91,236.67 107.21,236.72 107.52,237.48 107.83,237.62 108.14,237.25 108.45,237.97 108.76,236.95 109.06,236.21 109.37,235.7 109.68,236.14 109.99,237.19 110.3,238.21 110.61,237.43 110.92,236.47 111.22,237.62 111.53,237.51 111.84,236.98 112.15,236.95 112.46,236.88 112.77,236.45 113.07,236.05 113.38,236.82 113.69,236.5 114,237.17 114.31,237.54 114.62,237.6 114.92,237.31 115.23,236.4 115.54,236.48 115.85,236.83 116.16,236.72 116.47,239.25 116.77,236.17 117.08,237.25 117.39,236.25 117.7,236.23 118.01,236.94 118.32,237.39 118.63,237.78 118.93,237.18 119.24,237.45 119.55,240.86 119.86,241.74 120.17,236.97 120.48,240.12 120.78,237.46 121.09,237.22 121.4,238.39 121.71,238.32 122.02,238.45 122.33,238.53 122.63,238.47 122.94,240.16 123.25,237.98 123.56,238.32 123.87,238.52 124.18,241.29 124.48,238.73 124.79,237.69 125.1,238.53 125.41,237.94 125.72,237.69 126.03,237.96 126.34,237.86 126.64,239.74 126.95,237.89 127.26,237.4 127.57,239 127.88,237.39 128.19,236.22 128.49,237.31 128.8,237.05 129.11,237.12 129.42,237.55 129.73,237 130.04,237.15 130.34,237.63 130.65,237.35 130.96,240.91 131.27,236.81 131.58,236.7 131.89,236.96 132.19,236.51 132.5,236.71 132.81,237.14 133.12,237.77 133.43,237.21 133.74,236.58 134.05,240.97 134.35,238.08 134.66,238.65 134.97,238.92 135.28,238.55 135.59,237.69 135.9,238.03 136.2,238.28 136.51,237.63 136.82,238 137.13,238.45 137.44,242.48 137.75,242.07 138.05,237.52 138.36,241.62 138.67,238.22 138.98,238.79 139.29,238.33 139.6,237.56 139.9,244.96 140.21,237.53 140.52,237.21 140.83,240.16 141.14,237.68 141.45,238.6 141.76,238.51 142.06,238.38 142.37,239.31 142.68,239.49 142.99,238.92 143.3,237.84" fill="none" stroke="#2c4c8b" stroke-opacity="1" stroke-width="1.2" stroke-linejoin="round"/>
<line x1="40.6" y1="186.9" x2="40.6" y2="273" stroke="#1c1c1c" stroke-width="1.1"/>
<line x1="37.6" y1="269.9" x2="40.6" y2="269.9" stroke="#1c1c1c" stroke-width="1.1"/>
<g transform="translate(34.6,272.9) scale(0.9,1)"><text x="0" y="0" font-size="8.6" text-anchor="end" fill="#262626" stroke="#262626">0</text></g>
<line x1="37.6" y1="243" x2="40.6" y2="243" stroke="#1c1c1c" stroke-width="1.1"/>
<g transform="translate(34.6,246) scale(0.9,1)"><text x="0" y="0" font-size="8.6" text-anchor="end" fill="#262626" stroke="#262626">100</text></g>
<line x1="37.6" y1="216.1" x2="40.6" y2="216.1" stroke="#1c1c1c" stroke-width="1.1"/>
<g transform="translate(34.6,219.1) scale(0.9,1)"><text x="0" y="0" font-size="8.6" text-anchor="end" fill="#262626" stroke="#262626">200</text></g>
<line x1="37.6" y1="189.2" x2="40.6" y2="189.2" stroke="#1c1c1c" stroke-width="1.1"/>
<g transform="translate(34.6,192.2) scale(0.9,1)"><text x="0" y="0" font-size="8.6" text-anchor="end" fill="#262626" stroke="#262626">300</text></g>
<line x1="40.1" y1="270.3" x2="143.8" y2="270.3" stroke="#1c1c1c" stroke-width="1.1"/>
<line x1="40.6" y1="270.3" x2="40.6" y2="273.3" stroke="#1c1c1c" stroke-width="1.1"/>
<g transform="translate(40.6,283.8) scale(0.9,1)"><text x="0" y="0" font-size="8.6" text-anchor="middle" fill="#262626" stroke="#262626">0</text></g>
<line x1="66.3" y1="270.3" x2="66.3" y2="273.3" stroke="#1c1c1c" stroke-width="1.1"/>
<g transform="translate(66.3,283.8) scale(0.9,1)"><text x="0" y="0" font-size="8.6" text-anchor="middle" fill="#262626" stroke="#262626">50</text></g>
<line x1="92" y1="270.3" x2="92" y2="273.3" stroke="#1c1c1c" stroke-width="1.1"/>
<g transform="translate(92,283.8) scale(0.9,1)"><text x="0" y="0" font-size="8.6" text-anchor="middle" fill="#262626" stroke="#262626">100</text></g>
<line x1="117.7" y1="270.3" x2="117.7" y2="273.3" stroke="#1c1c1c" stroke-width="1.1"/>
<g transform="translate(117.7,283.8) scale(0.9,1)"><text x="0" y="0" font-size="8.6" text-anchor="middle" fill="#262626" stroke="#262626">150</text></g>
<line x1="143.4" y1="270.3" x2="143.4" y2="273.3" stroke="#1c1c1c" stroke-width="1.1"/>
<g transform="translate(143.4,283.8) scale(0.9,1)"><text x="0" y="0" font-size="8.6" text-anchor="middle" fill="#262626" stroke="#262626">200</text></g>
<g transform="translate(92.3,296.6) scale(0.74,1)"><text x="0" y="0" font-size="9" text-anchor="middle" fill="#262626" stroke="#262626">Time (s)</text></g>
<g transform="translate(14.9,228.3) rotate(-90) scale(0.82,1)"><text x="0" y="0" font-size="9" text-anchor="middle" fill="#262626" stroke="#262626">[Ca<tspan font-size="6" dy="-3.4">2+</tspan><tspan dy="3.4">]</tspan> (nM)</text></g>
<text x="47.2" y="218.8" font-size="7.4" text-anchor="start" fill="#b0203f" stroke="#b0203f" font-weight="normal" >GRK6-/-</text>
<text x="100.2" y="258.5" font-size="7.4" text-anchor="start" fill="#2f4f8f" stroke="#2f4f8f" font-weight="normal" >WT</text>
<text x="209.1" y="181" font-size="9.1" text-anchor="start" fill="#262626" stroke="#262626" font-weight="normal" >PAR4-AP (100 &#956;M )</text>
<polygon points="198.1,260.31 198.41,268.03 198.72,266.03 199.03,268.32 199.34,267.53 199.65,267.82 199.96,267.67 200.27,267.61 200.58,268.21 200.89,268.43 201.2,267.08 201.52,268.14 201.83,268.07 202.14,268.24 202.45,265.03 202.76,267.26 203.07,267.38 203.38,267.76 203.69,268.3 204,268.64 204.31,268 204.62,268 204.93,267.73 205.24,266.05 205.55,267.01 205.86,267.7 206.17,267.61 206.48,268.34 206.79,265.77 207.1,269.26 207.41,268.58 207.73,270.61 208.04,267.79 208.35,267.88 208.66,266.17 208.97,268.39 209.28,269.22 209.59,268.21 209.9,267.31 210.21,267.6 210.52,267.23 210.83,266.19 211.14,269.49 211.45,268.43 211.76,267.86 212.07,268.17 212.38,267.31 212.69,268.92 213,268.78 213.31,268.07 213.62,267.75 213.94,268.79 214.25,268.9 214.56,267.9 214.87,267.26 215.18,268.86 215.49,267.19 215.8,269.38 216.11,268.63 216.42,267.77 216.73,267.68 217.04,268.27 217.35,268.38 217.66,267.72 217.97,267.29 218.28,266.54 218.59,267.68 218.9,266.66 219.21,268.65 219.52,267.67 219.84,267.86 220.15,268.4 220.46,268.84 220.77,267.87 221.08,268.42 221.39,268.49 221.7,267.35 222.01,268.2 222.32,267.67 222.63,268.36 222.94,265.28 223.25,268.05 223.56,268.87 223.87,269.06 224.18,268.54 224.49,267.38 224.8,266.41 225.11,265.69 225.42,267.28 225.73,254.55 226.05,268.37 226.36,267.98 226.67,267.41 226.98,268.04 227.29,267.67 227.6,267.27 227.91,268.09 228.22,268.31 228.53,268.9 228.84,269.18 229.15,269.57 229.46,267.19 229.77,263.17 230.08,263.81 230.39,263.02 230.7,261.62 231.01,264.64 231.32,260.75 231.63,260.76 231.94,259.16 232.26,257.94 232.57,255.02 232.88,253.25 233.19,252.71 233.5,252.29 233.81,247.44 234.12,249.76 234.43,246.89 234.74,245.73 235.05,242.2 235.36,244.98 235.67,239 235.98,236.05 236.29,231.22 236.6,237 236.91,235.46 237.22,235.96 237.53,230.83 237.84,229.72 238.15,230.54 238.46,227.55 238.78,223.01 239.09,224.42 239.4,222.02 239.71,224.03 240.02,221.73 240.33,219.7 240.64,217.9 240.95,220.27 241.26,220.44 241.57,214.46 241.88,217.79 242.19,217.72 242.5,216.65 242.81,216.38 243.12,216.9 243.43,213.36 243.74,214.41 244.05,212.57 244.36,214.45 244.67,212.5 244.99,212.43 245.3,211.19 245.61,213.45 245.92,206.33 246.23,209.69 246.54,208.72 246.85,208.32 247.16,205.48 247.47,206.77 247.78,206.02 248.09,206.11 248.4,206.46 248.71,207.64 249.02,201.51 249.33,202.78 249.64,203.82 249.95,207.5 250.26,205.14 250.57,202.83 250.88,207.45 251.2,201.27 251.51,201.79 251.82,201.11 252.13,203.92 252.44,197.31 252.75,202.09 253.06,198.16 253.37,200.62 253.68,201.28 253.99,201.44 254.3,202.37 254.61,201.14 254.92,196.7 255.23,200.21 255.54,199.58 255.85,199.29 256.16,202.88 256.47,199.98 256.78,199.45 257.09,199.9 257.41,197.2 257.72,198.78 258.03,199.41 258.34,193.54 258.65,196.84 258.96,197.85 259.27,199.45 259.58,201.26 259.89,199.35 260.2,196.83 260.51,196.47 260.82,198.67 261.13,200.31 261.44,200.46 261.75,196.12 262.06,198.93 262.37,201.08 262.68,199.82 262.99,202.44 263.3,194.64 263.62,200.06 263.93,199.59 264.24,200.17 264.55,199.01 264.86,198.91 265.17,193.94 265.48,198.37 265.79,197.85 266.1,198.33 266.41,196.56 266.72,199.96 267.03,196.29 267.34,199.25 267.65,199.37 267.96,200.43 268.27,197.31 268.58,198.92 268.89,199.24 269.2,199.38 269.51,198.03 269.83,199.52 270.14,201.31 270.45,197.08 270.76,193.73 271.07,198.74 271.38,200.09 271.69,200.15 272,192.46 272.31,198.06 272.62,196.6 272.93,199.93 273.24,197.68 273.55,197.87 273.86,197.65 274.17,200.58 274.48,200.53 274.79,200.36 275.1,197.48 275.41,194.58 275.72,198.3 276.04,199.46 276.35,198.96 276.66,200.08 276.97,200.71 277.28,200.23 277.59,202.12 277.9,198.99 278.21,199.08 278.52,198.39 278.83,199.59 279.14,200.2 279.45,196.16 279.76,194.08 280.07,196.45 280.38,197.48 280.69,195.41 281,198.42 281.31,200.13 281.62,201.3 281.93,195.66 282.25,199.32 282.56,195.81 282.87,201.29 283.18,196.74 283.49,198.92 283.8,195.05 284.11,200.5 284.42,199.12 284.73,199.94 285.04,199.25 285.35,193.89 285.66,195.12 285.97,199.04 286.28,197.32 286.59,200.83 286.9,198.34 287.21,196.67 287.52,196.92 287.83,199.32 288.14,194.89 288.46,198.39 288.77,198.94 289.08,198.45 289.39,198 289.7,198.69 290.01,197.24 290.32,199.72 290.63,201.21 290.94,201.36 291.25,200.9 291.56,201.03 291.87,198.52 292.18,198.46 292.49,196.73 292.8,200.5 293.11,200.09 293.42,196.39 293.73,201.11 294.04,197.1 294.35,198.51 294.67,197.75 294.98,200.33 295.29,197.07 295.6,200.99 295.91,196.27 296.22,197.66 296.53,197.53 296.84,199.38 297.15,197.87 297.46,197.95 297.77,206.95 298.08,197.43 298.39,197.63 298.7,190.86 299.01,198.14 299.32,198.06 299.63,196.14 299.94,199.42 300.25,200.11 300.56,197.99 300.88,196.45 301.19,198.44 301.5,192.37 301.5,221 301.19,222.5 300.88,218.56 300.56,224.77 300.25,220.53 299.94,221.57 299.63,220.49 299.32,223.17 299.01,220.37 298.7,215.08 298.39,219.32 298.08,218.79 297.77,229.89 297.46,218.38 297.15,219.79 296.84,220.38 296.53,222.17 296.22,219.35 295.91,221.68 295.6,221.35 295.29,223.07 294.98,224.88 294.67,222.94 294.35,219.56 294.04,219.53 293.73,220.74 293.42,225.6 293.11,225.69 292.8,225.21 292.49,223.32 292.18,221.22 291.87,230.01 291.56,222.68 291.25,226.83 290.94,224.07 290.63,223.5 290.32,223.57 290.01,220.38 289.7,221.47 289.39,221.19 289.08,218.99 288.77,218.97 288.46,219.44 288.14,219.57 287.83,223.9 287.52,221.29 287.21,221.81 286.9,221.42 286.59,225.77 286.28,221.09 285.97,221.3 285.66,219.42 285.35,222.82 285.04,222.56 284.73,222.81 284.42,221.13 284.11,222.31 283.8,222.77 283.49,220.49 283.18,219.6 282.87,221.05 282.56,222.66 282.25,220.85 281.93,215.41 281.62,224.92 281.31,222.01 281,221.07 280.69,222.8 280.38,223.43 280.07,221.5 279.76,220.97 279.45,220.06 279.14,222.08 278.83,219.37 278.52,220.36 278.21,221.78 277.9,222.65 277.59,225.55 277.28,223.3 276.97,224.39 276.66,222.44 276.35,221.84 276.04,223.23 275.72,220.63 275.41,222.74 275.1,219.4 274.79,221.99 274.48,221.44 274.17,221.71 273.86,224.77 273.55,221.35 273.24,221.61 272.93,222.13 272.62,221.81 272.31,219.5 272,214.98 271.69,220.92 271.38,224.41 271.07,224.98 270.76,219.87 270.45,219.99 270.14,222.8 269.83,221.35 269.51,225.1 269.2,221.39 268.89,222.77 268.58,220.03 268.27,219.41 267.96,222.97 267.65,222.81 267.34,223 267.03,225.95 266.72,221.67 266.41,225.3 266.1,220.39 265.79,221.14 265.48,219.88 265.17,220.78 264.86,221.5 264.55,219.99 264.24,224.56 263.93,221.42 263.62,220.8 263.3,221.03 262.99,224.61 262.68,222.43 262.37,222 262.06,223.04 261.75,224.76 261.44,223.27 261.13,223.38 260.82,221.58 260.51,224.74 260.2,224.01 259.89,224.99 259.58,222.64 259.27,222 258.96,220.12 258.65,220.93 258.34,216.6 258.03,221.31 257.72,221.28 257.41,219.91 257.09,221.44 256.78,223.84 256.47,221.91 256.16,224.4 255.85,228.08 255.54,227.34 255.23,221.54 254.92,221.1 254.61,223.44 254.3,222.84 253.99,223.75 253.68,224.18 253.37,221.95 253.06,223.03 252.75,224.2 252.44,224.99 252.13,226.08 251.82,227.04 251.51,224.4 251.2,228.7 250.88,228.98 250.57,229.09 250.26,232.55 249.95,228.84 249.64,226.14 249.33,224.94 249.02,227.01 248.71,231.29 248.4,226.66 248.09,230.65 247.78,229.23 247.47,232.35 247.16,229.59 246.85,230.92 246.54,232.89 246.23,233.3 245.92,226.45 245.61,234.29 245.3,234.95 244.99,235.07 244.67,238.4 244.36,238.79 244.05,239.66 243.74,235.94 243.43,241.97 243.12,238.09 242.81,240.66 242.5,238.81 242.19,242.65 241.88,240.32 241.57,239.22 241.26,242.6 240.95,242.71 240.64,242.51 240.33,241.65 240.02,244.04 239.71,246 239.4,247.72 239.09,248.22 238.78,246.46 238.46,250.39 238.15,251.19 237.84,248.79 237.53,253.4 237.22,252.61 236.91,255.53 236.6,254.71 236.29,252.44 235.98,254.44 235.67,256.14 235.36,262.65 235.05,258.03 234.74,262.52 234.43,260.88 234.12,262.98 233.81,265.09 233.5,266.79 233.19,266.86 232.88,263.81 232.57,265.83 232.26,269.41 231.94,273.83 231.63,270.16 231.32,272.87 231.01,272.46 230.7,273.51 230.39,270.32 230.08,280.16 229.77,272.7 229.46,271.87 229.15,272.1 228.84,271.7 228.53,270.94 228.22,270.64 227.91,271.58 227.6,270.1 227.29,270.65 226.98,270.84 226.67,270.38 226.36,270.49 226.05,271.8 225.73,257.88 225.42,270.2 225.11,269.2 224.8,269.76 224.49,270.96 224.18,271.38 223.87,270.85 223.56,271.34 223.25,270.84 222.94,267.33 222.63,270.55 222.32,270.48 222.01,270.52 221.7,271.18 221.39,270.37 221.08,271.69 220.77,271.26 220.46,271.2 220.15,271.67 219.84,270.33 219.52,270.2 219.21,271.58 218.9,269.85 218.59,269.74 218.28,269.45 217.97,271.11 217.66,270.86 217.35,270.7 217.04,271.3 216.73,271.21 216.42,271.62 216.11,271.36 215.8,271 215.49,271.49 215.18,271.85 214.87,269.69 214.56,270.7 214.25,271.32 213.94,271.01 213.62,269.92 213.31,270.36 213,271.28 212.69,271.33 212.38,271.3 212.07,270.51 211.76,270.74 211.45,272.14 211.14,271.88 210.83,268.6 210.52,270.05 210.21,270.83 209.9,270.37 209.59,270.03 209.28,271.07 208.97,270.74 208.66,268.64 208.35,269.97 208.04,270.53 207.73,273.3 207.41,270.85 207.1,272.14 206.79,267.94 206.48,271.83 206.17,270.69 205.86,269.87 205.55,269.96 205.24,269.42 204.93,269.88 204.62,270.77 204.31,271.33 204,271.02 203.69,270.9 203.38,271.73 203.07,270.29 202.76,270.39 202.45,267.48 202.14,270.72 201.83,270.65 201.52,270.9 201.2,269 200.89,270.57 200.58,271.97 200.27,270.34 199.96,269.58 199.65,269.73 199.34,269.23 199.03,270.1 198.72,268.81 198.41,270.74 198.1,263.37" fill="#cf8a7c" fill-opacity="0.9" stroke="none"/>
<polyline points="198.1,263.45 198.41,269.12 198.72,267.39 199.03,269.11 199.34,268.32 199.65,268.96 199.96,268.66 200.27,269.3 200.58,269.71 200.89,269.29 201.2,268.15 201.52,269.53 201.83,269.29 202.14,269.73 202.45,266.46 202.76,269.23 203.07,269.18 203.38,269.54 203.69,269.91 204,269.53 204.31,269.81 204.62,269.76 204.93,269.08 205.24,268.07 205.55,268.64 205.86,268.88 206.17,268.67 206.48,269.13 206.79,267.42 207.1,270.93 207.41,269.88 207.73,271.64 208.04,269.73 208.35,268.98 208.66,267.5 208.97,269.81 209.28,270.01 209.59,269.19 209.9,269.58 210.21,269.56 210.52,269.07 210.83,267.92 211.14,270.28 211.45,269.39 211.76,269.72 212.07,269.64 212.38,270.27 212.69,269.73 213,269.65 213.31,269.28 213.62,268.76 213.94,270.09 214.25,270.24 214.56,269.88 214.87,268.87 215.18,269.98 215.49,269.65 215.8,270.23 216.11,270.01 216.42,269.13 216.73,269.29 217.04,269.59 217.35,269.68 217.66,269.15 217.97,269.03 218.28,268.28 218.59,268.91 218.9,268.79 219.21,269.57 219.52,269.39 219.84,268.99 220.15,269.53 220.46,269.65 220.77,269.11 221.08,269.56 221.39,269.36 221.7,269.07 222.01,269.05 222.32,269.46 222.63,269.34 222.94,266.92 223.25,269.67 223.56,270.27 223.87,269.87 224.18,270.06 224.49,268.93 224.8,268.73 225.11,268.09 225.42,268.19 225.73,258.89 226.05,269.5 226.36,269.72 226.67,269.41 226.98,269.22 227.29,269.1 227.6,269.15 227.91,269.21 228.22,269.48 228.53,270.17 228.84,270.62 229.15,270.76 229.46,269.76 229.77,269.14 230.08,272.7 230.39,266.99 230.7,267.46 231.01,267.3 231.32,266.62 231.63,265.36 231.94,265.82 232.26,262.68 232.57,259.87 232.88,259.21 233.19,259.1 233.5,258.25 233.81,256.31 234.12,255.4 234.43,254.84 234.74,254.29 235.05,251.23 235.36,254.69 235.67,248.09 235.98,246.87 236.29,242.68 236.6,245.48 236.91,244.12 237.22,243.93 237.53,243.16 237.84,239.42 238.15,242.06 238.46,239.15 238.78,236.48 239.09,236.87 239.4,235.17 239.71,234.3 240.02,232.64 240.33,231.8 240.64,231.1 240.95,232 241.26,230.8 241.57,229.46 241.88,228.99 242.19,228.94 242.5,227.73 242.81,228.74 243.12,227.3 243.43,227.06 243.74,226.34 244.05,227.14 244.36,224.51 244.67,224.92 244.99,225.1 245.3,223.8 245.61,223.39 245.92,217.96 246.23,221.69 246.54,221.05 246.85,219.72 247.16,219.87 247.47,217.86 247.78,217.42 248.09,216.5 248.4,216.07 248.71,219.39 249.02,215.26 249.33,214.4 249.64,215.24 249.95,217.31 250.26,216.74 250.57,218.22 250.88,218 251.2,215.13 251.51,213.49 251.82,214.17 252.13,214.13 252.44,212.92 252.75,212.26 253.06,211.86 253.37,212.24 253.68,212.31 253.99,212.91 254.3,212.95 254.61,212.58 254.92,210.78 255.23,211.9 255.54,213.25 255.85,212.81 256.16,212.78 256.47,212.34 256.78,211.34 257.09,210.93 257.41,210.14 257.72,209.2 258.03,209.91 258.34,206.79 258.65,209.81 258.96,209.83 259.27,210.71 259.58,211.21 259.89,211.32 260.2,210.93 260.51,211.8 260.82,210.72 261.13,211.14 261.44,210.43 261.75,211.31 262.06,211.81 262.37,211.32 262.68,212.02 262.99,212.37 263.3,211.47 263.62,210.13 263.93,211.47 264.24,212.98 264.55,210.15 264.86,209.25 265.17,209.44 265.48,209.35 265.79,210.99 266.1,209.69 266.41,211.12 266.72,210.43 267.03,210.5 267.34,211.07 267.65,209.59 267.96,210.88 268.27,208.2 268.58,208.92 268.89,209.65 269.2,210.88 269.51,209.53 269.83,210.07 270.14,211.11 270.45,209.92 270.76,208.35 271.07,209.75 271.38,210.67 271.69,209.97 272,204.47 272.31,209.67 272.62,210.53 272.93,209.49 273.24,211.11 273.55,211.25 273.86,212.22 274.17,211.43 274.48,210.84 274.79,211.1 275.1,208.91 275.41,209.94 275.72,210.36 276.04,210.84 276.35,209.99 276.66,211.04 276.97,210.55 277.28,211.15 277.59,212.46 277.9,210.79 278.21,209.44 278.52,209.95 278.83,209.36 279.14,210.1 279.45,209.47 279.76,210.87 280.07,209.94 280.38,210.66 280.69,210.23 281,210.25 281.31,211.81 281.62,211.9 281.93,206.51 282.25,210.51 282.56,211.08 282.87,211.27 283.18,208.96 283.49,209.91 283.8,209.7 284.11,210.5 284.42,211.3 284.73,211.16 285.04,210.83 285.35,210.27 285.66,208.82 285.97,209.41 286.28,210.08 286.59,210.77 286.9,209.93 287.21,209.07 287.52,210.57 287.83,210.23 288.14,208.75 288.46,209.31 288.77,208.86 289.08,208.62 289.39,210.26 289.7,209.24 290.01,209.61 290.32,210.53 290.63,211.71 290.94,213.69 291.25,212.64 291.56,211.91 291.87,211.75 292.18,210.9 292.49,209.11 292.8,211.07 293.11,211.43 293.42,212.38 293.73,211.13 294.04,209.5 294.35,209.42 294.67,210.28 294.98,211.97 295.29,210.85 295.6,211.37 295.91,209.67 296.22,209.53 296.53,209.78 296.84,209.2 297.15,208.65 297.46,208.81 297.77,215.92 298.08,208.92 298.39,209.33 298.7,203.04 299.01,209.63 299.32,208.19 299.63,208.3 299.94,210.32 300.25,209.86 300.56,210.26 300.88,208.8 301.19,209.36 301.5,209.39" fill="none" stroke="#a3002a" stroke-opacity="1" stroke-width="1.4" stroke-linejoin="round"/>
<polygon points="198.1,270.24 198.41,268.09 198.72,268.18 199.03,268.92 199.34,268 199.65,266.99 199.96,267.68 200.27,268.3 200.58,267.95 200.89,268.56 201.2,267.8 201.52,268.17 201.83,268.71 202.14,269.15 202.45,266.87 202.76,267.59 203.07,268.66 203.38,268.13 203.69,268.51 204,269.43 204.31,269.44 204.62,268.54 204.93,268.32 205.24,269.15 205.55,271.6 205.86,268.89 206.17,267.57 206.48,268.02 206.79,268.42 207.1,267.46 207.41,268.14 207.73,267.87 208.04,268.28 208.35,268.42 208.66,267.75 208.97,269.91 209.28,268.54 209.59,268.18 209.9,268.81 210.21,268.61 210.52,268.85 210.83,268.64 211.14,268.3 211.45,268.66 211.76,268.72 212.07,267.38 212.38,268 212.69,267.77 213,268.46 213.31,267.76 213.62,268.33 213.94,268.4 214.25,267.84 214.56,267.16 214.87,268.61 215.18,268.27 215.49,268.9 215.8,268 216.11,267.29 216.42,267.97 216.73,266.53 217.04,267.48 217.35,268.13 217.66,268.24 217.97,268 218.28,268.48 218.59,268.47 218.9,271.61 219.21,268.41 219.52,267.91 219.84,269.46 220.15,269.18 220.46,269.76 220.77,268.6 221.08,269.47 221.39,270.52 221.7,268.4 222.01,268.78 222.32,269.34 222.63,269.13 222.94,269.54 223.25,268.46 223.56,269.27 223.87,268.39 224.18,269.91 224.49,269.07 224.8,269.13 225.11,268.61 225.42,268.02 225.73,267.24 226.05,267.45 226.36,268.06 226.67,269.72 226.98,269.05 227.29,268.26 227.6,269.36 227.91,268.44 228.22,268.07 228.53,270.25 228.84,268.4 229.15,268.17 229.46,268.75 229.77,268.99 230.08,267.2 230.39,268.39 230.7,268 231.01,268.6 231.32,268.18 231.63,267.21 231.94,267.4 232.26,269.54 232.57,266.55 232.88,265.95 233.19,263.75 233.5,263.78 233.81,261.79 234.12,261.55 234.43,259.54 234.74,259.74 235.05,259.67 235.36,257.48 235.67,258.04 235.98,255.56 236.29,254.27 236.6,255.52 236.91,255.97 237.22,254.89 237.53,254.61 237.84,252.91 238.15,245 238.46,254.02 238.78,253.26 239.09,250.13 239.4,249.96 239.71,249.01 240.02,248.3 240.33,249.63 240.64,248.95 240.95,248.55 241.26,247.48 241.57,248.01 241.88,247.1 242.19,245.92 242.5,246.44 242.81,246.06 243.12,245.54 243.43,245.44 243.74,245.42 244.05,245.57 244.36,244.77 244.67,246.4 244.99,246.93 245.3,247.26 245.61,246.31 245.92,244.98 246.23,242.94 246.54,244.67 246.85,242.97 247.16,242.48 247.47,242.95 247.78,242.51 248.09,243.4 248.4,243.36 248.71,241.55 249.02,243.27 249.33,242.29 249.64,242.44 249.95,243.79 250.26,242.77 250.57,245.92 250.88,241.17 251.2,240.53 251.51,239.66 251.82,240.23 252.13,243.75 252.44,239.92 252.75,243.09 253.06,243.07 253.37,245.03 253.68,242.79 253.99,243.42 254.3,244.22 254.61,244.52 254.92,244.45 255.23,242.63 255.54,243.81 255.85,243.91 256.16,241.88 256.47,242.45 256.78,239.37 257.09,242.36 257.41,243.35 257.72,243.11 258.03,243.48 258.34,242.5 258.65,242.25 258.96,241.57 259.27,241.03 259.58,241.57 259.89,241.73 260.2,240.08 260.51,240.33 260.82,242.85 261.13,242.78 261.44,242.12 261.75,242.1 262.06,241.7 262.37,242.59 262.68,242 262.99,240.59 263.3,241.48 263.62,242.77 263.93,241.03 264.24,240.13 264.55,239.78 264.86,241.21 265.17,241.25 265.48,241.77 265.79,242.44 266.1,242.3 266.41,242.2 266.72,239.53 267.03,240.79 267.34,242.47 267.65,241.82 267.96,240.5 268.27,241.87 268.58,238.99 268.89,240.5 269.2,240.44 269.51,241.23 269.83,241.16 270.14,241.05 270.45,241.01 270.76,240.1 271.07,240.04 271.38,240.44 271.69,241.86 272,241.39 272.31,241.36 272.62,241.72 272.93,240.52 273.24,241.37 273.55,240.2 273.86,242.46 274.17,243.53 274.48,241.63 274.79,240.01 275.1,241.5 275.41,241.37 275.72,241.64 276.04,240.03 276.35,240.01 276.66,240.83 276.97,241.26 277.28,244.63 277.59,241.33 277.9,239.61 278.21,242.4 278.52,240.83 278.83,241.21 279.14,241.2 279.45,240.85 279.76,241.14 280.07,241.52 280.38,237.4 280.69,241.72 281,241.16 281.31,242.41 281.62,242.5 281.93,241.76 282.25,240.78 282.56,240.42 282.87,242.75 283.18,242.42 283.49,240.63 283.8,244.25 284.11,241.76 284.42,240.95 284.73,240.44 285.04,240.57 285.35,240.19 285.66,239.79 285.97,239.72 286.28,241.75 286.59,241.3 286.9,241.43 287.21,241.42 287.52,245.39 287.83,239.42 288.14,241.81 288.46,241.81 288.77,239.41 289.08,241.44 289.39,240.42 289.7,242.17 290.01,240.86 290.32,240.6 290.63,240.9 290.94,242.06 291.25,238.34 291.56,245.96 291.87,241.62 292.18,241.45 292.49,240.82 292.8,241.28 293.11,240.65 293.42,239.47 293.73,240.53 294.04,240.15 294.35,239.97 294.67,241.54 294.98,241.23 295.29,241.54 295.6,240.92 295.91,242.42 296.22,241.17 296.53,239.13 296.84,241.33 297.15,241.61 297.46,241.42 297.77,242.06 298.08,241.22 298.39,242.55 298.7,240.85 299.01,240.1 299.32,240.19 299.63,240.72 299.94,240.38 300.25,241.42 300.56,240.61 300.88,240.21 301.19,241.07 301.5,240.3 301.5,246.47 301.19,247.49 300.88,246.27 300.56,247.8 300.25,249.96 299.94,248.18 299.63,246.89 299.32,245.85 299.01,246.39 298.7,248.36 298.39,248.35 298.08,248.75 297.77,249.83 297.46,247.58 297.15,247.3 296.84,248.49 296.53,247.48 296.22,248.78 295.91,249.4 295.6,248.16 295.29,247.86 294.98,249.3 294.67,248 294.35,248.22 294.04,247.41 293.73,249.18 293.42,246.73 293.11,247.55 292.8,249.61 292.49,248.73 292.18,248.51 291.87,247.52 291.56,252.04 291.25,246.16 290.94,248.83 290.63,248.91 290.32,247.16 290.01,247.84 289.7,250 289.39,248 289.08,249.63 288.77,247 288.46,249.61 288.14,247.63 287.83,245.71 287.52,254.98 287.21,247.9 286.9,247.16 286.59,248.63 286.28,247.21 285.97,247.1 285.66,249.73 285.35,247.53 285.04,248.08 284.73,248.3 284.42,248.03 284.11,248.2 283.8,252 283.49,246.9 283.18,248.5 282.87,249.7 282.56,247.6 282.25,248.62 281.93,249.1 281.62,248.15 281.31,248.94 281,248.84 280.69,248.96 280.38,245.06 280.07,248.17 279.76,248.78 279.45,246.8 279.14,248.99 278.83,247.57 278.52,247.45 278.21,249.61 277.9,248.29 277.59,247.71 277.28,251.38 276.97,247.79 276.66,246.96 276.35,247.56 276.04,247.35 275.72,248.79 275.41,247.93 275.1,247.92 274.79,248.69 274.48,248.27 274.17,250.83 273.86,248.51 273.55,247.91 273.24,248.99 272.93,248.54 272.62,248.46 272.31,247.62 272,249.87 271.69,248.57 271.38,248.65 271.07,246.39 270.76,246.51 270.45,247.98 270.14,246.91 269.83,248.12 269.51,248.39 269.2,246.88 268.89,247.55 268.58,246.68 268.27,249.98 267.96,247.19 267.65,250.04 267.34,247.84 267.03,248.59 266.72,248.96 266.41,247.9 266.1,248.44 265.79,248.37 265.48,248.16 265.17,248.02 264.86,248.94 264.55,247.28 264.24,247.38 263.93,248.14 263.62,248.9 263.3,249.1 262.99,248.28 262.68,250.28 262.37,248.83 262.06,247.65 261.75,247.61 261.44,248.09 261.13,249.45 260.82,249.56 260.51,250.42 260.2,249.52 259.89,247.93 259.58,248.46 259.27,248.85 258.96,248 258.65,248.12 258.34,248.31 258.03,250.7 257.72,251.24 257.41,252.06 257.09,250.3 256.78,245.22 256.47,248.46 256.16,249.86 255.85,249.73 255.54,250.7 255.23,252.22 254.92,250.58 254.61,252.52 254.3,252.14 253.99,252.6 253.68,250.12 253.37,251.06 253.06,249.82 252.75,249.68 252.44,251.32 252.13,255.83 251.82,252.01 251.51,251.86 251.2,253.53 250.88,253.1 250.57,256.58 250.26,255.83 249.95,254.36 249.64,255.73 249.33,253.79 249.02,253.72 248.71,253.61 248.4,256.63 248.09,256.5 247.78,253.62 247.47,255.1 247.16,255.06 246.85,254.54 246.54,256.8 246.23,254.56 245.92,258 245.61,256.8 245.3,258.76 244.99,257.23 244.67,257.56 244.36,256.87 244.05,256.94 243.74,257.47 243.43,256.57 243.12,256.84 242.81,257.99 242.5,258.64 242.19,258.45 241.88,261.1 241.57,258.92 241.26,260.25 240.95,260.61 240.64,259.29 240.33,260.62 240.02,261.48 239.71,262.47 239.4,261.76 239.09,261.52 238.78,264.4 238.46,265.71 238.15,257.09 237.84,264.67 237.53,264.41 237.22,264.46 236.91,265.36 236.6,264.55 236.29,264.27 235.98,264.72 235.67,265.61 235.36,265.96 235.05,266.17 234.74,266.37 234.43,267.59 234.12,266.71 233.81,267.83 233.5,269.19 233.19,268.23 232.88,269.71 232.57,269.52 232.26,272.39 231.94,269.59 231.63,269.45 231.32,269.35 231.01,270.56 230.7,270.03 230.39,269.64 230.08,269.26 229.77,269.98 229.46,270.11 229.15,270.38 228.84,269.53 228.53,272.75 228.22,269.49 227.91,269.73 227.6,270.73 227.29,270.32 226.98,270.13 226.67,271.6 226.36,269.26 226.05,268.93 225.73,268.71 225.42,270.05 225.11,270.29 224.8,270.29 224.49,270.98 224.18,271.31 223.87,270.58 223.56,270.35 223.25,270.34 222.94,270.79 222.63,270.66 222.32,271.11 222.01,269.62 221.7,270.36 221.39,271.62 221.08,271.08 220.77,271.62 220.46,271.38 220.15,270.96 219.84,271.27 219.52,270.45 219.21,271 218.9,272.91 218.59,270.16 218.28,270.12 217.97,269.58 217.66,270.1 217.35,269.92 217.04,268.47 216.73,268.35 216.42,269.14 216.11,268.47 215.8,269.44 215.49,270.19 215.18,269.91 214.87,269.99 214.56,269.61 214.25,269.41 213.94,270.36 213.62,269.45 213.31,269.92 213,270.36 212.69,270.1 212.38,269.94 212.07,269.81 211.76,270.33 211.45,270.03 211.14,270.28 210.83,270.35 210.52,270.64 210.21,270.4 209.9,269.88 209.59,270.53 209.28,270.61 208.97,270.73 208.66,269.82 208.35,269.64 208.04,269.72 207.73,269.98 207.41,269.41 207.1,269.68 206.79,269.58 206.48,269.3 206.17,269.01 205.86,270.25 205.55,273.42 205.24,271.17 204.93,269.25 204.62,270.17 204.31,271.86 204,270.44 203.69,269.65 203.38,269.62 203.07,269.91 202.76,269.21 202.45,269.17 202.14,270.86 201.83,270.6 201.52,269.6 201.2,269.41 200.89,270.21 200.58,269.34 200.27,270.37 199.96,268.96 199.65,269.05 199.34,269.7 199.03,269.9 198.72,269.87 198.41,269.44 198.1,271.69" fill="#8e9dcb" fill-opacity="0.9" stroke="none"/>
<polyline points="198.1,270.39 198.41,268.8 198.72,268.69 199.03,269.35 199.34,268.91 199.65,268.29 199.96,268.24 200.27,269.06 200.58,268.57 200.89,269.61 201.2,268.44 201.52,268.97 201.83,269.63 202.14,269.85 202.45,268.26 202.76,268.63 203.07,269.19 203.38,268.77 203.69,269.04 204,269.88 204.31,270.4 204.62,269.67 204.93,268.75 205.24,269.75 205.55,272.37 205.86,269.69 206.17,268.34 206.48,268.64 206.79,269.06 207.1,268.81 207.41,268.65 207.73,268.96 208.04,269.29 208.35,268.97 208.66,268.66 208.97,270.04 209.28,270.15 209.59,269.19 209.9,269.27 210.21,269.56 210.52,270.08 210.83,269.38 211.14,269.68 211.45,269.09 211.76,269.42 212.07,269.26 212.38,268.98 212.69,269.53 213,269.8 213.31,269.5 213.62,269.03 213.94,269.65 214.25,268.82 214.56,268.76 214.87,269.11 215.18,268.94 215.49,269.56 215.8,268.92 216.11,268.03 216.42,268.47 216.73,267.47 217.04,268.08 217.35,268.99 217.66,269.46 217.97,269.18 218.28,269.22 218.59,269.25 218.9,271.67 219.21,270.03 219.52,269.35 219.84,270.21 220.15,270.42 220.46,270.49 220.77,270.09 221.08,270.05 221.39,270.59 221.7,269.6 222.01,269.16 222.32,270.09 222.63,269.95 222.94,269.97 223.25,269.69 223.56,269.85 223.87,269.74 224.18,270.62 224.49,269.57 224.8,269.6 225.11,269.6 225.42,268.9 225.73,268.16 226.05,268.19 226.36,268.54 226.67,270.55 226.98,269.71 227.29,269.61 227.6,269.8 227.91,269.13 228.22,268.83 228.53,270.65 228.84,269.1 229.15,269.6 229.46,269.2 229.77,269.53 230.08,268.46 230.39,269.14 230.7,268.93 231.01,269.2 231.32,268.64 231.63,269.05 231.94,268.55 232.26,270.64 232.57,268.17 232.88,267.54 233.19,266.29 233.5,266.18 233.81,264.43 234.12,264.02 234.43,264 234.74,262.82 235.05,262.69 235.36,262.14 235.67,261.8 235.98,261.08 236.29,260.05 236.6,260.5 236.91,260.33 237.22,259.51 237.53,259.32 237.84,258.78 238.15,253.16 238.46,259.79 238.78,258.33 239.09,256.15 239.4,256.6 239.71,255.81 240.02,255.03 240.33,255.32 240.64,254.27 240.95,253.77 241.26,253.82 241.57,253.31 241.88,253.54 242.19,253.17 242.5,253.17 242.81,252.52 243.12,251.52 243.43,251.47 243.74,250.86 244.05,251.67 244.36,251.61 244.67,251.46 244.99,251.97 245.3,252.26 245.61,251.33 245.92,250.08 246.23,248.97 246.54,250.47 246.85,248.76 247.16,248.32 247.47,248.71 247.78,247.79 248.09,249.12 248.4,248.44 248.71,247.94 249.02,248.54 249.33,247.64 249.64,248.44 249.95,249.33 250.26,248.83 250.57,250.56 250.88,247.06 251.2,247.04 251.51,246.55 251.82,246.17 252.13,248.98 252.44,246.29 252.75,246.24 253.06,245.99 253.37,247.79 253.68,246.59 253.99,247.31 254.3,248.19 254.61,247.79 254.92,247.9 255.23,246.15 255.54,247.25 255.85,247 256.16,245.6 256.47,245.64 256.78,243.25 257.09,246.2 257.41,247.11 257.72,246.43 258.03,246.73 258.34,245.27 258.65,245.23 258.96,244.45 259.27,245.6 259.58,245.39 259.89,245.04 260.2,244.39 260.51,245.09 260.82,245.99 261.13,245.67 261.44,244.94 261.75,244.81 262.06,244.64 262.37,246.15 262.68,245.88 262.99,245.17 263.3,245.62 263.62,245.57 263.93,244.71 264.24,244.08 264.55,244.05 264.86,244.66 265.17,244.01 265.48,244.53 265.79,245.24 266.1,245.37 266.41,245.11 266.72,245.09 267.03,245.46 267.34,245.15 267.65,245.53 267.96,244.02 268.27,244.84 268.58,242.54 268.89,243.37 269.2,243.84 269.51,244.35 269.83,245.02 270.14,244.01 270.45,244.22 270.76,243.6 271.07,242.9 271.38,244.4 271.69,245.81 272,245.79 272.31,244.86 272.62,244.59 272.93,245.24 273.24,245.88 273.55,244.98 273.86,245.75 274.17,246.47 274.48,245.2 274.79,243.99 275.1,244.18 275.41,244.67 275.72,244.82 276.04,243.66 276.35,244.29 276.66,243.97 276.97,244.42 277.28,247.56 277.59,244.62 277.9,243.85 278.21,245.08 278.52,243.87 278.83,244.8 279.14,244.03 279.45,243.91 279.76,244.9 280.07,244.54 280.38,241.41 280.69,245.45 281,245.41 281.31,246.1 281.62,245.34 281.93,245.07 282.25,244.63 282.56,244 282.87,246.28 283.18,245.13 283.49,244.22 283.8,246.45 284.11,244.53 284.42,244.62 284.73,244.35 285.04,244.13 285.35,243.72 285.66,244.41 285.97,244.34 286.28,244.51 286.59,244.47 286.9,244.49 287.21,244.48 287.52,249.33 287.83,242.78 288.14,244.95 288.46,244.87 288.77,244.16 289.08,245.06 289.39,244.06 289.7,244.89 290.01,244.06 290.32,244.46 290.63,244.44 290.94,245.78 291.25,243.73 291.56,248.38 291.87,244.67 292.18,244.81 292.49,244.71 292.8,244.9 293.11,243.66 293.42,243.94 293.73,243.93 294.04,243.41 294.35,243.9 294.67,245.15 294.98,245.31 295.29,244.59 295.6,244.08 295.91,245.29 296.22,244.15 296.53,244.15 296.84,245.14 297.15,244.32 297.46,244.35 297.77,245.74 298.08,245.45 298.39,245.35 298.7,243.98 299.01,243.13 299.32,242.92 299.63,243.71 299.94,243.97 300.25,244.93 300.56,244.3 300.88,243.11 301.19,243.96 301.5,243.22" fill="none" stroke="#2c4c8b" stroke-opacity="1" stroke-width="1.3" stroke-linejoin="round"/>
<line x1="197.25" y1="191.5" x2="197.25" y2="273" stroke="#1c1c1c" stroke-width="1.1"/>
<line x1="194.25" y1="269.4" x2="197.25" y2="269.4" stroke="#1c1c1c" stroke-width="1.1"/>
<g transform="translate(191.5,272.4) scale(0.9,1)"><text x="0" y="0" font-size="8.6" text-anchor="end" fill="#262626" stroke="#262626">0</text></g>
<line x1="194.25" y1="250.3" x2="197.25" y2="250.3" stroke="#1c1c1c" stroke-width="1.1"/>
<g transform="translate(191.5,253.3) scale(0.9,1)"><text x="0" y="0" font-size="8.6" text-anchor="end" fill="#262626" stroke="#262626">50</text></g>
<line x1="194.25" y1="231.2" x2="197.25" y2="231.2" stroke="#1c1c1c" stroke-width="1.1"/>
<g transform="translate(191.5,234.2) scale(0.9,1)"><text x="0" y="0" font-size="8.6" text-anchor="end" fill="#262626" stroke="#262626">100</text></g>
<line x1="194.25" y1="212.1" x2="197.25" y2="212.1" stroke="#1c1c1c" stroke-width="1.1"/>
<g transform="translate(191.5,215.1) scale(0.9,1)"><text x="0" y="0" font-size="8.6" text-anchor="end" fill="#262626" stroke="#262626">150</text></g>
<line x1="194.25" y1="193" x2="197.25" y2="193" stroke="#1c1c1c" stroke-width="1.1"/>
<g transform="translate(191.5,196) scale(0.9,1)"><text x="0" y="0" font-size="8.6" text-anchor="end" fill="#262626" stroke="#262626">200</text></g>
<line x1="196.7" y1="270.4" x2="304.3" y2="270.4" stroke="#1c1c1c" stroke-width="1.1"/>
<line x1="198.1" y1="270.4" x2="198.1" y2="273.4" stroke="#1c1c1c" stroke-width="1.1"/>
<g transform="translate(198.1,283.8) scale(0.9,1)"><text x="0" y="0" font-size="8.6" text-anchor="middle" fill="#262626" stroke="#262626">0</text></g>
<line x1="223.97" y1="270.4" x2="223.97" y2="273.4" stroke="#1c1c1c" stroke-width="1.1"/>
<g transform="translate(223.97,283.8) scale(0.9,1)"><text x="0" y="0" font-size="8.6" text-anchor="middle" fill="#262626" stroke="#262626">50</text></g>
<line x1="249.85" y1="270.4" x2="249.85" y2="273.4" stroke="#1c1c1c" stroke-width="1.1"/>
<g transform="translate(249.85,283.8) scale(0.9,1)"><text x="0" y="0" font-size="8.6" text-anchor="middle" fill="#262626" stroke="#262626">100</text></g>
<line x1="275.73" y1="270.4" x2="275.73" y2="273.4" stroke="#1c1c1c" stroke-width="1.1"/>
<g transform="translate(275.73,283.8) scale(0.9,1)"><text x="0" y="0" font-size="8.6" text-anchor="middle" fill="#262626" stroke="#262626">150</text></g>
<line x1="301.6" y1="270.4" x2="301.6" y2="273.4" stroke="#1c1c1c" stroke-width="1.1"/>
<g transform="translate(301.6,283.8) scale(0.9,1)"><text x="0" y="0" font-size="8.6" text-anchor="middle" fill="#262626" stroke="#262626">200</text></g>
<g transform="translate(251,296.6) scale(0.74,1)"><text x="0" y="0" font-size="9" text-anchor="middle" fill="#262626" stroke="#262626">Time (s)</text></g>
<g transform="translate(172.8,230.7) rotate(-90) scale(0.82,1)"><text x="0" y="0" font-size="9" text-anchor="middle" fill="#262626" stroke="#262626">[Ca<tspan font-size="6" dy="-3.4">2+</tspan><tspan dy="3.4">]</tspan> (nM)</text></g>
<text x="206.9" y="216.9" font-size="7.4" text-anchor="start" fill="#b0203f" stroke="#b0203f" font-weight="normal" >GRK6-/-</text>
<text x="260.7" y="260.5" font-size="7.4" text-anchor="start" fill="#2f4f8f" stroke="#2f4f8f" font-weight="normal" >WT</text>
<text x="65" y="328.5" font-size="9.1" text-anchor="start" fill="#262626" stroke="#262626" font-weight="normal" >ADP(10 &#956;M )</text>
<polygon points="40.4,402.21 40.71,402.44 41.02,401.2 41.33,399.95 41.63,402 41.94,401 42.25,401.75 42.56,402.37 42.87,403.42 43.18,402.36 43.48,400.14 43.79,400.39 44.1,401.47 44.41,401.3 44.72,400.19 45.03,401.4 45.33,402.02 45.64,402.4 45.95,400.44 46.26,401.17 46.57,402.81 46.88,401.88 47.18,401.05 47.49,402.1 47.8,402.33 48.11,398.02 48.42,401.81 48.73,401.8 49.04,401.46 49.34,402.35 49.65,401.21 49.96,401.82 50.27,401.65 50.58,401.83 50.89,401.05 51.19,402.03 51.5,401.04 51.81,401.71 52.12,401.69 52.43,402.12 52.74,403.6 53.04,402.7 53.35,402.68 53.66,402.35 53.97,402.17 54.28,402.29 54.59,401.97 54.89,402.39 55.2,402.46 55.51,402.28 55.82,400.85 56.13,400.3 56.44,403.06 56.75,399.8 57.05,401.62 57.36,401.05 57.67,401.72 57.98,400.59 58.29,401.79 58.6,401.6 58.9,402.78 59.21,403.1 59.52,403.4 59.83,402.45 60.14,402.48 60.45,402.65 60.75,402.26 61.06,401.75 61.37,401.03 61.68,401.58 61.99,402.81 62.3,402.74 62.6,401.82 62.91,401.19 63.22,402.51 63.53,401.38 63.84,400.09 64.15,400.97 64.46,402.62 64.76,401.94 65.07,401.64 65.38,401.78 65.69,402.18 66,401.38 66.31,400.77 66.61,402.3 66.92,400.1 67.23,399.58 67.54,396.35 67.85,389.66 68.16,382.35 68.46,381.77 68.77,375.48 69.08,370.92 69.39,366.23 69.7,362.87 70.01,358.89 70.31,357.52 70.62,356.39 70.93,356.58 71.24,354.8 71.55,358.38 71.86,359.18 72.17,358.81 72.47,357.18 72.78,358.46 73.09,359.89 73.4,360.48 73.71,359.86 74.02,360.68 74.32,362.67 74.63,362.58 74.94,361.77 75.25,363.81 75.56,363.47 75.87,365 76.17,365.18 76.48,365.33 76.79,365.04 77.1,364.59 77.41,366.53 77.72,367.26 78.02,367.3 78.33,367.36 78.64,369.1 78.95,367.1 79.26,368.61 79.57,369.36 79.88,369.95 80.18,368.73 80.49,369.53 80.8,369.8 81.11,370.01 81.42,370.85 81.73,371.43 82.03,372.22 82.34,369.75 82.65,372.21 82.96,372.41 83.27,372.9 83.58,373.38 83.88,372.07 84.19,372.25 84.5,375.36 84.81,373.86 85.12,373.05 85.43,374.63 85.73,375.85 86.04,375.98 86.35,375.94 86.66,375.62 86.97,374.29 87.28,375.5 87.59,376.25 87.89,372.68 88.2,375.69 88.51,378.25 88.82,377.78 89.13,377.65 89.44,377.51 89.74,372.61 90.05,378.53 90.36,378.99 90.67,378.07 90.98,376.57 91.29,375.25 91.59,377.62 91.9,380.04 92.21,378.55 92.52,378.67 92.83,379.64 93.14,375.19 93.44,379.26 93.75,380.18 94.06,377.11 94.37,379.46 94.68,379.38 94.99,378.78 95.3,379.57 95.6,379.89 95.91,380.27 96.22,381.56 96.53,382.13 96.84,381.13 97.15,381.77 97.45,378.44 97.76,381.37 98.07,380.35 98.38,381.57 98.69,382.26 99,380.9 99.3,379.66 99.61,381.11 99.92,382.63 100.23,381.09 100.54,381.43 100.85,380.86 101.15,381.13 101.46,383.44 101.77,382.57 102.08,382.47 102.39,381.65 102.7,383.26 103.01,383.32 103.31,380.92 103.62,383.29 103.93,382.43 104.24,381.81 104.55,382.85 104.86,376.13 105.16,382.08 105.47,383.9 105.78,383.27 106.09,379.14 106.4,383.73 106.71,384.79 107.01,383.78 107.32,383.39 107.63,384.89 107.94,383.69 108.25,390.25 108.56,385.16 108.86,383.32 109.17,384.99 109.48,384.61 109.79,384.46 110.1,384.43 110.41,385.21 110.72,380.18 111.02,384.8 111.33,385.05 111.64,385.35 111.95,384.78 112.26,384.81 112.57,385.52 112.87,383.95 113.18,384.09 113.49,384.46 113.8,384.29 114.11,383.62 114.42,383.31 114.72,383.85 115.03,381.32 115.34,383.19 115.65,383.93 115.96,384.13 116.27,384.16 116.57,386.03 116.88,385.79 117.19,384.68 117.5,385.38 117.81,385.07 118.12,384.98 118.43,384.96 118.73,385.45 119.04,385.74 119.35,382.03 119.66,384.88 119.97,385.15 120.28,385.41 120.58,390.59 120.89,386.58 121.2,386.37 121.51,385.01 121.82,384.79 122.13,383.51 122.43,383.81 122.74,386.12 123.05,386.85 123.36,384.54 123.67,386.41 123.98,387.42 124.28,387 124.59,385.08 124.9,386.57 125.21,387.5 125.52,384.95 125.83,387.56 126.14,387.36 126.44,387.68 126.75,387.7 127.06,387.51 127.37,387.48 127.68,385.55 127.99,386.41 128.29,387.42 128.6,386.52 128.91,386.02 129.22,387.43 129.53,385.48 129.84,387.39 130.14,387.56 130.45,386.8 130.76,386.9 131.07,387.73 131.38,385.75 131.69,386.82 131.99,384.1 132.3,385.56 132.61,385.76 132.92,386.79 133.23,387.78 133.54,386.21 133.85,385.78 134.15,386.06 134.46,386.32 134.77,387.51 135.08,386.1 135.39,387.23 135.7,384.44 136,386.62 136.31,388.31 136.62,386.08 136.93,385.36 137.24,385.09 137.55,386.24 137.85,387.29 138.16,388.02 138.47,387.4 138.78,388.33 139.09,385.97 139.4,386.36 139.7,385.44 140.01,387.16 140.32,387.51 140.63,387.37 140.94,386.92 141.25,384.65 141.56,385.42 141.86,385.37 142.17,384.93 142.48,384.79 142.79,386.99 143.1,384.52 143.1,396.54 142.79,396.14 142.48,395.47 142.17,398.03 141.86,394.65 141.56,396.32 141.25,397.02 140.94,396.38 140.63,396.57 140.32,397.15 140.01,396.29 139.7,396.72 139.4,396.36 139.09,395.5 138.78,396.61 138.47,395.84 138.16,398.53 137.85,398.9 137.55,396.03 137.24,397.14 136.93,395.93 136.62,397.89 136.31,396.97 136,397.29 135.7,396.23 135.39,396.58 135.08,397.34 134.77,395.9 134.46,396.5 134.15,396.41 133.85,395.98 133.54,396.36 133.23,396.43 132.92,395.93 132.61,397.35 132.3,395.34 131.99,395.66 131.69,396.14 131.38,396.57 131.07,397.06 130.76,398.46 130.45,398.61 130.14,397.08 129.84,395.87 129.53,396.44 129.22,396.67 128.91,396.87 128.6,396.59 128.29,396.12 127.99,396.71 127.68,396.83 127.37,396.75 127.06,396.49 126.75,397.63 126.44,396.81 126.14,397.87 125.83,396.71 125.52,395.95 125.21,397.61 124.9,395.33 124.59,394.98 124.28,397.22 123.98,397.16 123.67,396.63 123.36,394.69 123.05,396.04 122.74,395.99 122.43,393.28 122.13,395.52 121.82,394.23 121.51,395.12 121.2,396.78 120.89,397.31 120.58,399.01 120.28,395.21 119.97,394.09 119.66,395.49 119.35,393.84 119.04,395.3 118.73,395.75 118.43,396.42 118.12,398.33 117.81,396.13 117.5,395.59 117.19,394.56 116.88,396.17 116.57,394.96 116.27,394.87 115.96,393.96 115.65,393.74 115.34,394.11 115.03,390.53 114.72,393.52 114.42,393.82 114.11,394.38 113.8,393.88 113.49,393.64 113.18,393.93 112.87,394.69 112.57,394.43 112.26,394.95 111.95,393.75 111.64,393.89 111.33,397.12 111.02,395.5 110.72,391.79 110.41,395.18 110.1,394.12 109.79,393.98 109.48,395.04 109.17,394.17 108.86,393.66 108.56,393.61 108.25,402.24 107.94,394.91 107.63,393.83 107.32,392.64 107.01,395.78 106.71,394.73 106.4,394.22 106.09,390.36 105.78,393.31 105.47,393.19 105.16,392.48 104.86,388.58 104.55,394.78 104.24,391.56 103.93,393.53 103.62,394.01 103.31,392.85 103.01,392.74 102.7,393.93 102.39,392.44 102.08,393.62 101.77,391.58 101.46,393.4 101.15,394.53 100.85,391.92 100.54,391.82 100.23,393.71 99.92,393.86 99.61,392.46 99.3,390.89 99,392.99 98.69,390.92 98.38,391.22 98.07,392 97.76,390.71 97.45,389.72 97.15,391.63 96.84,391.41 96.53,390.96 96.22,392.28 95.91,391.98 95.6,389.05 95.3,389.17 94.99,389 94.68,387.82 94.37,390.05 94.06,388.68 93.75,388.94 93.44,390.16 93.14,383.8 92.83,389.64 92.52,389.1 92.21,387.67 91.9,390.75 91.59,388.6 91.29,387.78 90.98,388.47 90.67,390.54 90.36,389.24 90.05,387.89 89.74,382.36 89.44,386.49 89.13,386.71 88.82,387.83 88.51,387.02 88.2,387.06 87.89,381.92 87.59,386.02 87.28,386.69 86.97,384.96 86.66,385.36 86.35,385.15 86.04,385.97 85.73,384.58 85.43,383.21 85.12,384.14 84.81,384.48 84.5,383.39 84.19,385.07 83.88,383.41 83.58,383.5 83.27,383.23 82.96,382.2 82.65,381.56 82.34,382.38 82.03,380.97 81.73,380.99 81.42,379.95 81.11,379.21 80.8,381.6 80.49,379.47 80.18,380.11 79.88,379.07 79.57,379.78 79.26,378.73 78.95,378.88 78.64,380.51 78.33,381.35 78.02,377.29 77.72,376.98 77.41,376.42 77.1,378.45 76.79,374.16 76.48,374.04 76.17,373.85 75.87,374.38 75.56,373.76 75.25,372.32 74.94,374.44 74.63,371.65 74.32,373.12 74.02,370.75 73.71,368.98 73.4,369.96 73.09,369.36 72.78,367.43 72.47,369.28 72.17,367.94 71.86,369.86 71.55,368.8 71.24,365.43 70.93,366.58 70.62,367.4 70.31,366.89 70.01,368.33 69.7,371.74 69.39,375.06 69.08,380.34 68.77,387.15 68.46,392.46 68.16,393.97 67.85,398.28 67.54,399.08 67.23,400.74 66.92,402.29 66.61,403.6 66.31,403.33 66,403.12 65.69,403.95 65.38,403.65 65.07,403.95 64.76,403.26 64.46,404.23 64.15,402.74 63.84,403.22 63.53,403.42 63.22,403.76 62.91,404.01 62.6,404.16 62.3,404.44 61.99,404.17 61.68,404.13 61.37,402.78 61.06,404.15 60.75,403.76 60.45,404.35 60.14,404.37 59.83,403.82 59.52,405.27 59.21,404.95 58.9,404 58.6,403.8 58.29,404.22 57.98,403.42 57.67,404.32 57.36,403.68 57.05,403.43 56.75,401.16 56.44,404.63 56.13,401.84 55.82,403.08 55.51,404.26 55.2,404.12 54.89,404.08 54.59,404.38 54.28,404.39 53.97,404.01 53.66,404.15 53.35,403.59 53.04,404.53 52.74,404.56 52.43,404.09 52.12,403.46 51.81,403.18 51.5,404.09 51.19,403.64 50.89,403.18 50.58,403.73 50.27,403.43 49.96,404.5 49.65,403.87 49.34,403.66 49.04,403.02 48.73,403.73 48.42,403.25 48.11,400.07 47.8,403.38 47.49,405.1 47.18,403.88 46.88,403.17 46.57,404.35 46.26,403.12 45.95,402.65 45.64,403.72 45.33,403.15 45.03,403.62 44.72,402.58 44.41,402.58 44.1,402.83 43.79,403.48 43.48,402.15 43.18,403.74 42.87,406.3 42.56,403.89 42.25,404.67 41.94,404.23 41.63,403.33 41.33,403.9 41.02,403.5 40.71,404.57 40.4,403.27" fill="#dc9478" fill-opacity="0.85" stroke="none"/>
<polyline points="40.4,402.68 40.71,403.01 41.02,402.52 41.33,402.29 41.63,402.52 41.94,402.54 42.25,402.64 42.56,403.1 42.87,405.58 43.18,402.86 43.48,400.94 43.79,402.6 44.1,401.97 44.41,401.88 44.72,402.04 45.03,402.66 45.33,402.48 45.64,403.15 45.95,401.99 46.26,402.07 46.57,403.27 46.88,402.64 47.18,402.31 47.49,402.73 47.8,402.85 48.11,399.34 48.42,402.67 48.73,402.52 49.04,402.42 49.34,403.14 49.65,402.47 49.96,402.92 50.27,402.57 50.58,402.48 50.89,402.65 51.19,402.88 51.5,402.65 51.81,402.3 52.12,402.99 52.43,403.11 52.74,404.04 53.04,403.37 53.35,403.12 53.66,403.39 53.97,403.09 54.28,403.45 54.59,403.01 54.89,403.2 55.2,403.56 55.51,402.78 55.82,401.79 56.13,401.21 56.44,403.63 56.75,400.58 57.05,402.23 57.36,402.5 57.67,402.76 57.98,402.36 58.29,402.82 58.6,403.09 58.9,403.42 59.21,404.13 59.52,404.25 59.83,403.13 60.14,403.25 60.45,403.19 60.75,403.24 61.06,402.73 61.37,402.21 61.68,403.02 61.99,403.45 62.3,403.65 62.6,402.96 62.91,402.45 63.22,403.24 63.53,402.51 63.84,401.96 64.15,402.15 64.46,403.33 64.76,402.73 65.07,402.52 65.38,403.21 65.69,402.96 66,402.34 66.31,402.13 66.61,402.9 66.92,401.74 67.23,400.09 67.54,397.97 67.85,394.17 68.16,389.18 68.46,385.77 68.77,381.34 69.08,375.45 69.39,370.38 69.7,367.24 70.01,363.89 70.31,362.17 70.62,361.94 70.93,361.58 71.24,360.33 71.55,363.94 71.86,364.22 72.17,363.78 72.47,364.57 72.78,363.21 73.09,364.69 73.4,365.33 73.71,364.55 74.02,365.87 74.32,367.16 74.63,367.32 74.94,368.53 75.25,367.82 75.56,368.82 75.87,369.08 76.17,369.47 76.48,369.77 76.79,370 77.1,370.4 77.41,370.76 77.72,371.5 78.02,372.18 78.33,373.46 78.64,373.71 78.95,373.26 79.26,373.84 79.57,373.9 79.88,374.76 80.18,374.79 80.49,375.09 80.8,374.91 81.11,374.34 81.42,375.07 81.73,375.96 82.03,376.24 82.34,376.41 82.65,377.29 82.96,378.11 83.27,378.53 83.58,379.16 83.88,378.32 84.19,379.05 84.5,379.37 84.81,378.75 85.12,378.72 85.43,379.17 85.73,380.04 86.04,381.84 86.35,380.87 86.66,380.35 86.97,380.71 87.28,381.39 87.59,381.04 87.89,377.71 88.2,382.11 88.51,382.87 88.82,382.34 89.13,382.08 89.44,382.35 89.74,378.1 90.05,383.18 90.36,383.23 90.67,383.68 90.98,383.76 91.29,383.69 91.59,383.73 91.9,384.12 92.21,383.6 92.52,383.74 92.83,384.02 93.14,379.49 93.44,385.17 93.75,384.9 94.06,384.09 94.37,384.78 94.68,383.6 94.99,383.71 95.3,384.02 95.6,385.02 95.91,385.12 96.22,386.36 96.53,386.34 96.84,386.98 97.15,387.01 97.45,385.16 97.76,385.75 98.07,386.23 98.38,386.21 98.69,386.53 99,386.38 99.3,386.8 99.61,387.91 99.92,387.6 100.23,386.49 100.54,386.24 100.85,386.93 101.15,386.86 101.46,387.72 101.77,387.43 102.08,388.23 102.39,387.35 102.7,388.26 103.01,388.03 103.31,387.8 103.62,388.11 103.93,386.66 104.24,386.94 104.55,387.88 104.86,384.52 105.16,388.17 105.47,388.75 105.78,388.55 106.09,386.17 106.4,390.02 106.71,389.1 107.01,388.59 107.32,388.52 107.63,389.49 107.94,389.5 108.25,394.3 108.56,389.4 108.86,389.6 109.17,389.45 109.48,389.63 109.79,389.5 110.1,389.87 110.41,389.71 110.72,387.3 111.02,389.92 111.33,390.13 111.64,389.35 111.95,388.89 112.26,389.61 112.57,390.02 112.87,389.47 113.18,389.17 113.49,389.54 113.8,389.07 114.11,389.43 114.42,389.22 114.72,389.35 115.03,386.4 115.34,389.25 115.65,389.05 115.96,389.78 116.27,390.01 116.57,390.88 116.88,390.81 117.19,389.91 117.5,390.12 117.81,391.06 118.12,389.98 118.43,390.77 118.73,390.36 119.04,390.39 119.35,389.54 119.66,389.35 119.97,389.69 120.28,389.86 120.58,394.6 120.89,391.28 121.2,390.9 121.51,390.41 121.82,389.67 122.13,390.46 122.43,387.85 122.74,391.32 123.05,391.47 123.36,390.67 123.67,390.55 123.98,391.93 124.28,391.01 124.59,389.76 124.9,390.84 125.21,391.68 125.52,389.04 125.83,392.33 126.14,392.28 126.44,392.03 126.75,391.72 127.06,392.16 127.37,392.34 127.68,392.01 127.99,391.51 128.29,391.69 128.6,390.86 128.91,390.69 129.22,391.6 129.53,391.13 129.84,391.81 130.14,392.41 130.45,392.53 130.76,391.59 131.07,392.71 131.38,391.02 131.69,391.38 131.99,390.34 132.3,390.32 132.61,391.04 132.92,391.68 133.23,392.28 133.54,391.66 133.85,391.8 134.15,391.14 134.46,391.67 134.77,391.65 135.08,391.24 135.39,391.57 135.7,391.03 136,390.89 136.31,392.31 136.62,392.12 136.93,390.94 137.24,391.46 137.55,391.95 137.85,392.59 138.16,392.84 138.47,391.84 138.78,392.56 139.09,391.41 139.4,391.72 139.7,391.17 140.01,392.01 140.32,392.82 140.63,391.95 140.94,391.69 141.25,390.47 141.56,390.51 141.86,390.1 142.17,390.09 142.48,390.79 142.79,391.08 143.1,390.69" fill="none" stroke="#a3002a" stroke-opacity="1" stroke-width="1.2" stroke-linejoin="round"/>
<polygon points="40.4,402.04 40.71,402.2 41.02,401.79 41.33,403.61 41.63,401.38 41.94,401.88 42.25,402.15 42.56,401.87 42.87,401.24 43.18,402.17 43.48,402.32 43.79,401.77 44.1,402.93 44.41,402.42 44.72,405.24 45.03,402.21 45.33,402.97 45.64,401.95 45.95,402.51 46.26,398.05 46.57,402.01 46.88,402.54 47.18,402.54 47.49,402.17 47.8,401.93 48.11,401.15 48.42,401.72 48.73,401.06 49.04,401.82 49.34,402.39 49.65,402.17 49.96,402.4 50.27,402.86 50.58,402.58 50.89,402.34 51.19,401.48 51.5,402.69 51.81,401.87 52.12,402.29 52.43,401.9 52.74,401.36 53.04,402.19 53.35,402.94 53.66,402.85 53.97,401.69 54.28,402.66 54.59,401.11 54.89,402.05 55.2,402.87 55.51,401.9 55.82,401.53 56.13,401.47 56.44,401.71 56.75,404.36 57.05,402.18 57.36,402.89 57.67,402.73 57.98,402.81 58.29,401.74 58.6,401.94 58.9,402.19 59.21,402.49 59.52,403.25 59.83,403.12 60.14,402.48 60.45,402.68 60.75,402.21 61.06,402.17 61.37,402.06 61.68,401.87 61.99,401.88 62.3,401.32 62.6,401.34 62.91,402.2 63.22,401.72 63.53,401.79 63.84,401.97 64.15,401.43 64.46,402.26 64.76,402.12 65.07,401.94 65.38,401.75 65.69,402.16 66,402.84 66.31,402.22 66.61,402.6 66.92,402.02 67.23,400.88 67.54,399.67 67.85,392.34 68.16,390.16 68.46,385.89 68.77,383.13 69.08,378.03 69.39,375.37 69.7,371.39 70.01,368.8 70.31,365.12 70.62,362.7 70.93,361.83 71.24,359.74 71.55,359.22 71.86,359.48 72.17,360.4 72.47,359.24 72.78,361.26 73.09,360.59 73.4,361.58 73.71,362.66 74.02,365.24 74.32,363.01 74.63,364.19 74.94,363.76 75.25,364.62 75.56,364.91 75.87,366.93 76.17,365.12 76.48,366.86 76.79,367.31 77.1,367.35 77.41,368.28 77.72,368.68 78.02,368.7 78.33,369.29 78.64,369.84 78.95,370.32 79.26,370.44 79.57,370.82 79.88,370.14 80.18,370.91 80.49,372.04 80.8,372.21 81.11,374.56 81.42,372.39 81.73,373.62 82.03,373.89 82.34,373.06 82.65,373.97 82.96,374.18 83.27,374.63 83.58,374.02 83.88,374.9 84.19,376.62 84.5,376.03 84.81,375.82 85.12,375.52 85.43,376.7 85.73,375.83 86.04,375.7 86.35,376.73 86.66,376.8 86.97,376.13 87.28,375.45 87.59,378.12 87.89,378.42 88.2,378.76 88.51,378.31 88.82,377.97 89.13,378.48 89.44,378.56 89.74,378.23 90.05,382.05 90.36,380.19 90.67,379.05 90.98,379.09 91.29,379.95 91.59,380.72 91.9,380.67 92.21,379.81 92.52,380.62 92.83,380.43 93.14,380.68 93.44,381.39 93.75,381.08 94.06,379.83 94.37,381.09 94.68,381.72 94.99,381.35 95.3,380.92 95.6,381.8 95.91,380.66 96.22,382.07 96.53,382.12 96.84,381.39 97.15,382.19 97.45,381.97 97.76,383.39 98.07,382.46 98.38,383.43 98.69,382.47 99,383.43 99.3,381.69 99.61,382.76 99.92,382.88 100.23,383.4 100.54,383.3 100.85,383 101.15,383.71 101.46,383.62 101.77,382.53 102.08,384.89 102.39,382.6 102.7,383.15 103.01,383.99 103.31,383.9 103.62,384.64 103.93,383.97 104.24,383.53 104.55,384.36 104.86,384.4 105.16,384.19 105.47,384.23 105.78,384 106.09,383.57 106.4,384.26 106.71,385.18 107.01,384.69 107.32,384.98 107.63,385.24 107.94,384.72 108.25,383.67 108.56,384.58 108.86,385.03 109.17,384.21 109.48,385.01 109.79,388.35 110.1,385.42 110.41,385.85 110.72,385.71 111.02,385.47 111.33,384.64 111.64,384.1 111.95,384.38 112.26,385.8 112.57,385 112.87,385.16 113.18,385.4 113.49,384.68 113.8,385.08 114.11,384.93 114.42,385.14 114.72,385.11 115.03,384.56 115.34,385.24 115.65,384.91 115.96,385.53 116.27,385.69 116.57,386.53 116.88,385.42 117.19,386.2 117.5,384.76 117.81,385.87 118.12,385.94 118.43,385.5 118.73,385.82 119.04,386.18 119.35,387.01 119.66,386.11 119.97,386.62 120.28,386.79 120.58,386.62 120.89,385.43 121.2,385.82 121.51,386.64 121.82,386.38 122.13,387.13 122.43,387.28 122.74,387.18 123.05,386.9 123.36,387.25 123.67,386.36 123.98,387.41 124.28,385.94 124.59,389.65 124.9,386.76 125.21,386.02 125.52,387.6 125.83,387.15 126.14,387.26 126.44,387.38 126.75,386.95 127.06,385.54 127.37,387.18 127.68,387.43 127.99,386.85 128.29,387.27 128.6,386.06 128.91,386.68 129.22,387.29 129.53,387.67 129.84,383.94 130.14,391.17 130.45,386.26 130.76,387.29 131.07,385.92 131.38,387.58 131.69,386.65 131.99,387.76 132.3,387.09 132.61,385.6 132.92,387.48 133.23,386.52 133.54,385.66 133.85,385.5 134.15,386.13 134.46,387.16 134.77,387.49 135.08,387.09 135.39,386.02 135.7,387.16 136,387.13 136.31,387.32 136.62,387.02 136.93,387.98 137.24,387.48 137.55,387.44 137.85,387.67 138.16,386.86 138.47,386.51 138.78,387.53 139.09,386.6 139.4,386.58 139.7,387.68 140.01,387.27 140.32,386.47 140.63,386.73 140.94,386.86 141.25,386.65 141.56,387.56 141.86,386.58 142.17,387.47 142.48,386.58 142.79,387.2 143.1,389.86 143.1,400.26 142.79,396.08 142.48,396.58 142.17,396.78 141.86,396.93 141.56,396.8 141.25,396.87 140.94,396.71 140.63,396.23 140.32,395.65 140.01,395.86 139.7,395.97 139.4,397.78 139.09,396.52 138.78,396.51 138.47,396.9 138.16,396.85 137.85,397.23 137.55,397.19 137.24,396.28 136.93,397.4 136.62,396.4 136.31,397.38 136,397.71 135.7,397.98 135.39,396.24 135.08,396.48 134.77,397.38 134.46,396.88 134.15,396.26 133.85,397.17 133.54,395.24 133.23,395.35 132.92,396.86 132.61,395.02 132.3,396.1 131.99,396.47 131.69,396.51 131.38,396.6 131.07,395.82 130.76,397.24 130.45,395.94 130.14,399.38 129.84,392.92 129.53,396.63 129.22,395.55 128.91,396.64 128.6,395.28 128.29,397.28 127.99,396.23 127.68,395.73 127.37,396.57 127.06,395.58 126.75,396.32 126.44,396.27 126.14,395.98 125.83,395.71 125.52,396.35 125.21,395.92 124.9,395.92 124.59,398.88 124.28,395.61 123.98,396.47 123.67,395.85 123.36,395.61 123.05,395.91 122.74,395.89 122.43,396 122.13,395.63 121.82,396.35 121.51,396.92 121.2,395.63 120.89,394.12 120.58,396.35 120.28,395.77 119.97,395.94 119.66,395.53 119.35,395.39 119.04,395.26 118.73,394.28 118.43,395.16 118.12,395.3 117.81,395.74 117.5,394.82 117.19,395.26 116.88,395.81 116.57,395.12 116.27,394.7 115.96,396.68 115.65,394.9 115.34,394.02 115.03,394.95 114.72,394.45 114.42,394.35 114.11,395.21 113.8,394.4 113.49,393.75 113.18,394.6 112.87,395.05 112.57,394.99 112.26,394.65 111.95,394.26 111.64,393.92 111.33,394.41 111.02,393.66 110.72,393.89 110.41,394.24 110.1,394.14 109.79,397 109.48,393.78 109.17,395.95 108.86,394.48 108.56,393.44 108.25,393.44 107.94,393.5 107.63,395.08 107.32,393.94 107.01,392.76 106.71,393.8 106.4,393.42 106.09,392.56 105.78,393.24 105.47,392.43 105.16,393.59 104.86,394 104.55,392.83 104.24,393.37 103.93,394.19 103.62,393.1 103.31,392.19 103.01,392.83 102.7,392.53 102.39,392.22 102.08,394.64 101.77,392.81 101.46,392.71 101.15,393.83 100.85,393.84 100.54,393.09 100.23,392.45 99.92,391.54 99.61,391.65 99.3,391.92 99,391.7 98.69,391.62 98.38,391.63 98.07,391.29 97.76,392.34 97.45,390.99 97.15,391.3 96.84,391.11 96.53,391.48 96.22,392.37 95.91,390.96 95.6,390.44 95.3,390.85 94.99,390.03 94.68,391.55 94.37,390.16 94.06,390.87 93.75,390.21 93.44,389.53 93.14,390.04 92.83,389.89 92.52,389.62 92.21,389.3 91.9,390.77 91.59,390.1 91.29,389.57 90.98,388.81 90.67,388.52 90.36,389.04 90.05,390.59 89.74,388.93 89.44,387.18 89.13,386.84 88.82,388.41 88.51,386.71 88.2,387.94 87.89,386.98 87.59,387.6 87.28,386.5 86.97,386.89 86.66,385.69 86.35,385.23 86.04,385.64 85.73,386.33 85.43,385.89 85.12,385.76 84.81,385.39 84.5,385.45 84.19,385.57 83.88,383.97 83.58,382.87 83.27,383.48 82.96,383.66 82.65,382.48 82.34,382.93 82.03,382.65 81.73,381.87 81.42,381.4 81.11,384.17 80.8,381.91 80.49,381.23 80.18,379.99 79.88,380.43 79.57,380.54 79.26,379.57 78.95,380.28 78.64,379.83 78.33,378.11 78.02,378.43 77.72,377.3 77.41,377.15 77.1,377.19 76.79,375.75 76.48,376.44 76.17,375.63 75.87,376.28 75.56,375.14 75.25,375.31 74.94,373.59 74.63,373.5 74.32,372.52 74.02,374.37 73.71,372.54 73.4,371.02 73.09,370.47 72.78,369.54 72.47,369.23 72.17,369.34 71.86,369.55 71.55,369.87 71.24,369.52 70.93,370.76 70.62,371.81 70.31,374.62 70.01,377.76 69.7,380.54 69.39,383.58 69.08,388.01 68.77,392.21 68.46,395.17 68.16,398.69 67.85,402.09 67.54,401.87 67.23,402.14 66.92,403.59 66.61,404.21 66.31,403.83 66,404.25 65.69,403.77 65.38,403.24 65.07,403.14 64.76,403.38 64.46,403.3 64.15,403.95 63.84,403.01 63.53,403.14 63.22,403.21 62.91,404.03 62.6,402.95 62.3,403.07 61.99,403.22 61.68,403.13 61.37,403.73 61.06,403.46 60.75,403.56 60.45,403.86 60.14,404.32 59.83,405.05 59.52,404.88 59.21,404.06 58.9,404.57 58.6,403.46 58.29,403.21 57.98,403.93 57.67,404.02 57.36,404 57.05,403.84 56.75,406.06 56.44,403.52 56.13,403.45 55.82,403.08 55.51,404.03 55.2,404.77 54.89,403.35 54.59,403.01 54.28,404.1 53.97,404.46 53.66,404.78 53.35,404.65 53.04,403.88 52.74,403.88 52.43,403.4 52.12,403.63 51.81,403.46 51.5,404.23 51.19,402.5 50.89,404.37 50.58,403.85 50.27,404.75 49.96,403.46 49.65,404.38 49.34,403.85 49.04,403.23 48.73,403.51 48.42,403.42 48.11,402.97 47.8,404.18 47.49,403.75 47.18,403.87 46.88,403.79 46.57,403.71 46.26,400.56 45.95,404.12 45.64,403.58 45.33,404.45 45.03,403.97 44.72,406.74 44.41,403.86 44.1,404.66 43.79,403.58 43.48,403.96 43.18,403.5 42.87,403.36 42.56,404.08 42.25,403.52 41.94,403.01 41.63,403.02 41.33,405.26 41.02,403.45 40.71,403.82 40.4,403.49" fill="#8e9dcb" fill-opacity="0.85" stroke="none"/>
<polyline points="40.4,402.63 40.71,403.07 41.02,402.69 41.33,404.43 41.63,402.53 41.94,402.54 42.25,402.67 42.56,402.69 42.87,402.39 43.18,402.89 43.48,403.05 43.79,403.01 44.1,403.61 44.41,403 44.72,405.22 45.03,403.06 45.33,403.5 45.64,402.7 45.95,403.46 46.26,400.16 46.57,402.84 46.88,403.1 47.18,403.12 47.49,403.05 47.8,402.61 48.11,402.51 48.42,402.82 48.73,402.71 49.04,402.74 49.34,402.85 49.65,402.75 49.96,402.84 50.27,404.04 50.58,403.36 50.89,403.42 51.19,401.98 51.5,403.18 51.81,402.67 52.12,403.14 52.43,402.72 52.74,402.64 53.04,402.96 53.35,403.47 53.66,403.33 53.97,403.53 54.28,403.21 54.59,402.11 54.89,402.87 55.2,403.39 55.51,403.04 55.82,402.52 56.13,402.54 56.44,402.78 56.75,404.95 57.05,402.93 57.36,403.39 57.67,403.45 57.98,403.42 58.29,402.74 58.6,403 58.9,402.84 59.21,403.25 59.52,404.07 59.83,404.1 60.14,403.25 60.45,403.3 60.75,402.9 61.06,402.7 61.37,402.83 61.68,402.59 61.99,402.4 62.3,402.37 62.6,401.97 62.91,403.36 63.22,402.43 63.53,402.28 63.84,402.48 64.15,402.82 64.46,402.83 64.76,402.83 65.07,402.55 65.38,402.48 65.69,402.67 66,403.64 66.31,403.11 66.61,403.12 66.92,402.54 67.23,401.39 67.54,400.41 67.85,397.34 68.16,394.28 68.46,391.11 68.77,387.34 69.08,383.44 69.39,379.54 69.7,375.7 70.01,372.92 70.31,370.15 70.62,367.52 70.93,366.34 71.24,365.24 71.55,364.33 71.86,364.2 72.17,364.81 72.47,364.68 72.78,365.33 73.09,365.46 73.4,366.32 73.71,367.09 74.02,369.81 74.32,367.85 74.63,368.23 74.94,369.28 75.25,369.77 75.56,369.92 75.87,371.05 76.17,371.04 76.48,371.07 76.79,371.64 77.1,372.54 77.41,372.62 77.72,372.84 78.02,372.91 78.33,374 78.64,374.48 78.95,374.89 79.26,374.48 79.57,375.76 79.88,375.59 80.18,375.5 80.49,376.06 80.8,376.38 81.11,378.7 81.42,377 81.73,377.7 82.03,378.09 82.34,377.95 82.65,378.1 82.96,378.6 83.27,379.13 83.58,378.8 83.88,379.49 84.19,380.69 84.5,380.93 84.81,380.53 85.12,380.64 85.43,380.89 85.73,380.66 86.04,380.74 86.35,380.99 86.66,381.09 86.97,381.11 87.28,381.32 87.59,382.26 87.89,382.61 88.2,382.85 88.51,382.69 88.82,382.41 89.13,382.69 89.44,383.08 89.74,383.58 90.05,385.53 90.36,384.46 90.67,384.2 90.98,384.81 91.29,385.07 91.59,385.03 91.9,385.24 92.21,385.03 92.52,384.76 92.83,385.57 93.14,385.26 93.44,385.41 93.75,385.57 94.06,385.55 94.37,385.81 94.68,386.17 94.99,385.95 95.3,386.01 95.6,386.16 95.91,386.33 96.22,386.6 96.53,386.59 96.84,386.29 97.15,387.22 97.45,386.9 97.76,387.39 98.07,387.29 98.38,387.46 98.69,387.21 99,387.47 99.3,387.35 99.61,387.08 99.92,387.36 100.23,388.01 100.54,388.43 100.85,389.1 101.15,388.54 101.46,388.55 101.77,388.74 102.08,390.13 102.39,387.93 102.7,387.97 103.01,388.62 103.31,387.95 103.62,389.08 103.93,388.94 104.24,388.85 104.55,388.75 104.86,388.96 105.16,388.81 105.47,388.35 105.78,388.87 106.09,388.48 106.4,389.06 106.71,389.34 107.01,388.71 107.32,389.47 107.63,389.69 107.94,389.4 108.25,388.76 108.56,389.07 108.86,389.77 109.17,389.96 109.48,389.76 109.79,391.85 110.1,390.03 110.41,390.01 110.72,389.86 111.02,389.48 111.33,389.97 111.64,389.71 111.95,390.06 112.26,389.99 112.57,389.86 112.87,390.09 113.18,390.16 113.49,389.5 113.8,389.96 114.11,390.29 114.42,390.13 114.72,389.98 115.03,389.67 115.34,389.73 115.65,390.02 115.96,390.4 116.27,390.67 116.57,391.1 116.88,390.73 117.19,390.92 117.5,390.13 117.81,390.44 118.12,390.48 118.43,390.55 118.73,390.28 119.04,391.12 119.35,391.29 119.66,390.8 119.97,391.18 120.28,391.46 120.58,391.33 120.89,390.33 121.2,391.3 121.51,391.43 121.82,391.49 122.13,391.6 122.43,391.74 122.74,391.41 123.05,391.66 123.36,391.6 123.67,391.56 123.98,391.75 124.28,391.21 124.59,393.29 124.9,391.15 125.21,390.83 125.52,391.79 125.83,391.36 126.14,391.29 126.44,391.81 126.75,391.76 127.06,391.58 127.37,391.86 127.68,391.72 127.99,391.55 128.29,391.63 128.6,391.13 128.91,391.29 129.22,391.3 129.53,391.71 129.84,389.15 130.14,394.64 130.45,391.57 130.76,392.17 131.07,391.51 131.38,391.93 131.69,391.93 131.99,392.04 132.3,391.35 132.61,391.02 132.92,391.87 133.23,391.25 133.54,391.02 133.85,391.75 134.15,391.96 134.46,391.63 134.77,391.86 135.08,392.03 135.39,391.95 135.7,391.86 136,392.02 136.31,392.27 136.62,392.24 136.93,392.1 137.24,391.94 137.55,392.33 137.85,392.2 138.16,392.12 138.47,391.87 138.78,391.94 139.09,391.94 139.4,392.13 139.7,391.94 140.01,391.63 140.32,391.43 140.63,391.83 140.94,391.55 141.25,392.14 141.56,392.27 141.86,392.02 142.17,391.91 142.48,392.09 142.79,391.77 143.1,394.03" fill="none" stroke="#2c4c8b" stroke-opacity="1" stroke-width="1.5" stroke-linejoin="round"/>
<line x1="40.6" y1="333.1" x2="40.6" y2="407" stroke="#1c1c1c" stroke-width="1.1"/>
<line x1="37.6" y1="402.9" x2="40.6" y2="402.9" stroke="#1c1c1c" stroke-width="1.1"/>
<g transform="translate(34.6,405.9) scale(0.9,1)"><text x="0" y="0" font-size="8.6" text-anchor="end" fill="#262626" stroke="#262626">0</text></g>
<line x1="37.6" y1="380.7" x2="40.6" y2="380.7" stroke="#1c1c1c" stroke-width="1.1"/>
<g transform="translate(34.6,383.7) scale(0.9,1)"><text x="0" y="0" font-size="8.6" text-anchor="end" fill="#262626" stroke="#262626">50</text></g>
<line x1="37.6" y1="358.5" x2="40.6" y2="358.5" stroke="#1c1c1c" stroke-width="1.1"/>
<g transform="translate(34.6,361.5) scale(0.9,1)"><text x="0" y="0" font-size="8.6" text-anchor="end" fill="#262626" stroke="#262626">100</text></g>
<line x1="37.6" y1="336.3" x2="40.6" y2="336.3" stroke="#1c1c1c" stroke-width="1.1"/>
<g transform="translate(34.6,339.3) scale(0.9,1)"><text x="0" y="0" font-size="8.6" text-anchor="end" fill="#262626" stroke="#262626">150</text></g>
<line x1="40.1" y1="404.6" x2="145" y2="404.6" stroke="#1c1c1c" stroke-width="1.1"/>
<line x1="40.4" y1="404.6" x2="40.4" y2="407.6" stroke="#1c1c1c" stroke-width="1.1"/>
<g transform="translate(40.4,418.2) scale(0.9,1)"><text x="0" y="0" font-size="8.6" text-anchor="middle" fill="#262626" stroke="#262626">0</text></g>
<line x1="66.1" y1="404.6" x2="66.1" y2="407.6" stroke="#1c1c1c" stroke-width="1.1"/>
<g transform="translate(66.1,418.2) scale(0.9,1)"><text x="0" y="0" font-size="8.6" text-anchor="middle" fill="#262626" stroke="#262626">50</text></g>
<line x1="91.8" y1="404.6" x2="91.8" y2="407.6" stroke="#1c1c1c" stroke-width="1.1"/>
<g transform="translate(91.8,418.2) scale(0.9,1)"><text x="0" y="0" font-size="8.6" text-anchor="middle" fill="#262626" stroke="#262626">100</text></g>
<line x1="117.5" y1="404.6" x2="117.5" y2="407.6" stroke="#1c1c1c" stroke-width="1.1"/>
<g transform="translate(117.5,418.2) scale(0.9,1)"><text x="0" y="0" font-size="8.6" text-anchor="middle" fill="#262626" stroke="#262626">150</text></g>
<line x1="143.2" y1="404.6" x2="143.2" y2="407.6" stroke="#1c1c1c" stroke-width="1.1"/>
<g transform="translate(143.2,418.2) scale(0.9,1)"><text x="0" y="0" font-size="8.6" text-anchor="middle" fill="#262626" stroke="#262626">200</text></g>
<g transform="translate(92.8,431) scale(0.74,1)"><text x="0" y="0" font-size="9" text-anchor="middle" fill="#262626" stroke="#262626">Time (s)</text></g>
<g transform="translate(14.9,368.5) rotate(-90) scale(0.82,1)"><text x="0" y="0" font-size="9" text-anchor="middle" fill="#262626" stroke="#262626">[Ca<tspan font-size="6" dy="-3.4">2+</tspan><tspan dy="3.4">]</tspan> (nM)</text></g>
<text x="100.6" y="368.5" font-size="7.4" text-anchor="start" fill="#b0203f" stroke="#b0203f" font-weight="normal" >GRK6-/-</text>
<text x="103.7" y="378.7" font-size="7.4" text-anchor="start" fill="#2f4f8f" stroke="#2f4f8f" font-weight="normal" >WT</text>
<text x="214.9" y="328.5" font-size="9.1" text-anchor="start" fill="#262626" stroke="#262626" font-weight="normal" >U46619(2 &#956;M )</text>
<polygon points="198.1,402.95 198.39,402.94 198.69,402.62 198.98,403.69 199.28,403.16 199.57,402.38 199.86,402.67 200.16,402.45 200.45,402.34 200.75,402.25 201.04,402.25 201.33,402.7 201.63,402.77 201.92,402.43 202.22,403.04 202.51,402.56 202.8,402.06 203.1,402.77 203.39,401.39 203.69,401.93 203.98,402.21 204.27,402.47 204.57,398.35 204.86,403.32 205.16,403.21 205.45,403.16 205.74,400.83 206.04,402.03 206.33,402.81 206.63,402.99 206.92,402.36 207.21,402.65 207.51,402.46 207.8,403.06 208.1,403.26 208.39,403.24 208.68,402.53 208.98,402.12 209.27,404.3 209.57,402.96 209.86,402.07 210.15,401.57 210.45,402.59 210.74,402.66 211.04,402.8 211.33,402.64 211.62,402.02 211.92,402.32 212.21,402.34 212.51,401.75 212.8,402.09 213.09,401.81 213.39,402.12 213.68,402 213.98,402.43 214.27,402.72 214.56,403.81 214.86,402.66 215.15,402.36 215.45,403.12 215.74,402.22 216.03,402.38 216.33,405.27 216.62,402.77 216.92,402.8 217.21,402.18 217.5,401.71 217.8,402.33 218.09,401.34 218.39,402.45 218.68,401.85 218.97,401.67 219.27,402.63 219.56,402.99 219.86,403.11 220.15,403.63 220.44,401.59 220.74,402.07 221.03,402.38 221.33,401.65 221.62,402.15 221.91,401.51 222.21,401.94 222.5,402.57 222.8,401.67 223.09,401.16 223.38,400.66 223.68,398.42 223.97,395.37 224.27,390.48 224.56,387.29 224.85,382.66 225.15,381.03 225.44,375.84 225.74,372.16 226.03,367.11 226.32,363.77 226.62,357.12 226.91,353.83 227.21,357.26 227.5,356.27 227.79,355.14 228.09,356.24 228.38,356.82 228.68,357.78 228.97,357.53 229.26,358.5 229.56,358.75 229.85,362.39 230.15,359.87 230.44,360.71 230.73,361.55 231.03,361.66 231.32,361.48 231.62,364.12 231.91,358.32 232.2,364.62 232.5,364.35 232.79,361.79 233.09,368.37 233.38,367.44 233.67,367.15 233.97,366.66 234.26,367.95 234.56,370.43 234.85,370.35 235.14,370.54 235.44,371.37 235.73,372.27 236.03,374.35 236.32,375.33 236.61,375.17 236.91,375.53 237.2,375.6 237.5,375.17 237.79,375.53 238.08,375.21 238.38,376.7 238.67,376.02 238.97,376.39 239.26,378.15 239.55,378.95 239.85,379.8 240.14,379.31 240.44,379.68 240.73,378.4 241.02,379.02 241.32,378.44 241.61,379.35 241.91,378.82 242.2,379.91 242.49,381.48 242.79,381.09 243.08,389.72 243.38,382.62 243.67,382.02 243.96,381.91 244.26,381.98 244.55,383.1 244.85,382.81 245.14,384.15 245.43,383.53 245.73,384.24 246.02,382.61 246.32,383.83 246.61,384.12 246.9,383.24 247.2,384.53 247.49,384.88 247.79,384.45 248.08,384.86 248.37,383.83 248.67,384.85 248.96,384.16 249.26,384.41 249.55,381.4 249.84,386.06 250.14,384.89 250.43,385.8 250.73,386.74 251.02,387.68 251.31,385.87 251.61,387.31 251.9,387.86 252.2,386.19 252.49,386.81 252.78,387.17 253.08,386.66 253.37,387.65 253.67,388.05 253.96,388.44 254.25,386.2 254.55,386.68 254.84,386.9 255.14,387.26 255.43,388.33 255.72,387.54 256.02,386.63 256.31,387.38 256.61,387.33 256.9,388.57 257.19,388 257.49,387.51 257.78,388.16 258.08,387.86 258.37,388.07 258.66,387.84 258.96,388.79 259.25,388.99 259.55,388.46 259.84,388.18 260.13,388.75 260.43,389.39 260.72,389.69 261.02,390.08 261.31,389.26 261.6,388.88 261.9,388.81 262.19,388.45 262.49,389.83 262.78,389.62 263.07,388.25 263.37,389.87 263.66,389.44 263.96,389.33 264.25,394.19 264.54,389.48 264.84,389.55 265.13,385.19 265.43,388.31 265.72,389.32 266.01,389.79 266.31,389.43 266.6,389.12 266.9,389.54 267.19,388.45 267.48,390.74 267.78,390.27 268.07,389.92 268.37,390.12 268.66,389.75 268.95,390.56 269.25,391.23 269.54,391.63 269.84,390.45 270.13,391.82 270.42,390.24 270.72,388.65 271.01,387.88 271.31,390.33 271.6,390.35 271.89,390.87 272.19,389.65 272.48,390.06 272.78,389.13 273.07,389.5 273.36,389.14 273.66,389.76 273.95,388.37 274.25,388.94 274.54,389.07 274.83,389.74 275.13,388.54 275.42,390.19 275.72,387.3 276.01,390.86 276.3,390.77 276.6,389.66 276.89,389.57 277.19,390.24 277.48,390.02 277.77,389.55 278.07,389.57 278.36,389.25 278.66,390.66 278.95,389.42 279.24,389.42 279.54,389.66 279.83,390.66 280.13,391.2 280.42,390.7 280.71,390.72 281.01,392.17 281.3,399.33 281.6,390.72 281.89,389.65 282.18,388.89 282.48,389.23 282.77,389.44 283.07,388.99 283.36,389.57 283.65,389.64 283.95,390.89 284.24,390.99 284.54,390.36 284.83,390.28 285.12,391.42 285.42,391.25 285.71,390.42 286.01,390.76 286.3,391.2 286.59,390.28 286.89,390.02 287.18,389.81 287.48,390.71 287.77,390.49 288.06,391.43 288.36,390.49 288.65,389.65 288.95,390.48 289.24,389.71 289.53,390.15 289.83,393.95 290.12,390.39 290.42,390.26 290.71,392.02 291,392.87 291.3,389.56 291.59,390.54 291.89,390.94 292.18,390.56 292.47,391.03 292.77,391.43 293.06,389.83 293.36,389.12 293.65,392.03 293.94,391.38 294.24,391.71 294.53,391.47 294.83,390.06 295.12,389.75 295.41,390.87 295.71,391.34 296,391.47 296,395.47 295.71,396.1 295.41,394.62 295.12,394.67 294.83,394.48 294.53,395.37 294.24,395.89 293.94,394.79 293.65,397.19 293.36,394.86 293.06,393.93 292.77,396.46 292.47,395.01 292.18,394.7 291.89,394.92 291.59,394.74 291.3,394.3 291,397.31 290.71,396.34 290.42,396.24 290.12,395.12 289.83,399.11 289.53,396.49 289.24,395.25 288.95,394.32 288.65,394.87 288.36,395.47 288.06,395.01 287.77,394.98 287.48,396.26 287.18,393.87 286.89,394.58 286.59,395.44 286.3,395.22 286.01,395.58 285.71,396.2 285.42,395.03 285.12,394.97 284.83,394.64 284.54,394.76 284.24,395.09 283.95,395.78 283.65,395.17 283.36,393.99 283.07,393.96 282.77,393.29 282.48,393.9 282.18,393.33 281.89,393.1 281.6,395.18 281.3,405.45 281.01,397.11 280.71,394.58 280.42,396.45 280.13,396.17 279.83,394.37 279.54,394.77 279.24,393.66 278.95,395.82 278.66,395.01 278.36,395.43 278.07,394.49 277.77,394.93 277.48,394.89 277.19,394.95 276.89,394.72 276.6,395.73 276.3,396.9 276.01,394.54 275.72,391.78 275.42,395.8 275.13,393.7 274.83,395.24 274.54,394.09 274.25,393.34 273.95,393.96 273.66,394.17 273.36,394.69 273.07,394.28 272.78,393.61 272.48,395.22 272.19,394.34 271.89,394.96 271.6,394.55 271.31,394.66 271.01,392.74 270.72,394.63 270.42,394.78 270.13,396.15 269.84,395.72 269.54,395.98 269.25,395 268.95,395.08 268.66,394.72 268.37,394.74 268.07,393.91 267.78,394.25 267.48,395.5 267.19,394.69 266.9,394.61 266.6,394.39 266.31,394.98 266.01,394.19 265.72,396.47 265.43,393.64 265.13,389.44 264.84,394.22 264.54,395.43 264.25,398.59 263.96,394.24 263.66,393.57 263.37,395.47 263.07,392.87 262.78,393.28 262.49,395.44 262.19,394.06 261.9,393.33 261.6,394 261.31,393.56 261.02,394.01 260.72,393.95 260.43,393.7 260.13,392.54 259.84,393.45 259.55,393.59 259.25,393.5 258.96,393.23 258.66,393.81 258.37,392.08 258.08,392.23 257.78,392 257.49,391.96 257.19,392.66 256.9,392.56 256.61,392.76 256.31,393.44 256.02,391.61 255.72,392.28 255.43,392.44 255.14,391.77 254.84,391.4 254.55,391.28 254.25,391.94 253.96,393.24 253.67,392.32 253.37,391.99 253.08,391.1 252.78,391.57 252.49,392.34 252.2,391.4 251.9,391.96 251.61,391.85 251.31,391.55 251.02,391.91 250.73,392.98 250.43,390.13 250.14,390.99 249.84,390.16 249.55,386.34 249.26,389.17 248.96,388.69 248.67,389.42 248.37,389.52 248.08,388.36 247.79,390.55 247.49,389.16 247.2,389.82 246.9,387.79 246.61,388.31 246.32,388.27 246.02,387.97 245.73,388.72 245.43,388.31 245.14,389.17 244.85,388.07 244.55,386.72 244.26,387.16 243.96,386.95 243.67,386.13 243.38,386.25 243.08,392.99 242.79,386.58 242.49,385.67 242.2,384.86 241.91,382.72 241.61,383.13 241.32,383.4 241.02,383.32 240.73,384.75 240.44,383.83 240.14,384.09 239.85,383.34 239.55,384.01 239.26,382.19 238.97,381.41 238.67,382.19 238.38,382.14 238.08,381.41 237.79,380.21 237.5,380.36 237.2,380.34 236.91,379.76 236.61,380.21 236.32,378.77 236.03,378.21 235.73,377.04 235.44,375.61 235.14,376.16 234.85,374.97 234.56,373.88 234.26,372.58 233.97,371.85 233.67,371.84 233.38,371.11 233.09,372.61 232.79,368.63 232.5,368.9 232.2,369.17 231.91,364.67 231.62,369.06 231.32,368.21 231.03,366.16 230.73,366.62 230.44,366.2 230.15,364.64 229.85,366.69 229.56,362.94 229.26,362.72 228.97,362.5 228.68,361.39 228.38,360.83 228.09,360.15 227.79,359.74 227.5,360.17 227.21,362.35 226.91,358.39 226.62,362.74 226.32,368.51 226.03,370.57 225.74,376.28 225.44,380.77 225.15,384.48 224.85,388.92 224.56,391.56 224.27,396.49 223.97,397.49 223.68,399.63 223.38,402.05 223.09,402.32 222.8,403.4 222.5,404.04 222.21,403.97 221.91,403.83 221.62,403.64 221.33,402.94 221.03,403.57 220.74,403.31 220.44,403.81 220.15,405.06 219.86,405.33 219.56,404.65 219.27,404.46 218.97,403.37 218.68,403.36 218.39,404.3 218.09,403.2 217.8,403.5 217.5,403.6 217.21,403.94 216.92,404 216.62,404.55 216.33,406.85 216.03,403.91 215.74,404.81 215.45,404.56 215.15,403.5 214.86,404.39 214.56,404.93 214.27,404.38 213.98,403.52 213.68,404.37 213.39,404.25 213.09,403.3 212.8,403.99 212.51,403.28 212.21,403.84 211.92,404.41 211.62,403.86 211.33,404.42 211.04,404.28 210.74,404.3 210.45,403.69 210.15,403.5 209.86,404.33 209.57,405.15 209.27,406.07 208.98,404.16 208.68,405.04 208.39,404.64 208.1,404.51 207.8,404.52 207.51,404 207.21,404.97 206.92,404.71 206.63,404.33 206.33,404.46 206.04,404.11 205.74,402.98 205.45,404.88 205.16,404.53 204.86,404.6 204.57,399.97 204.27,404.82 203.98,403.36 203.69,403.55 203.39,403.98 203.1,404.38 202.8,403.94 202.51,404.58 202.22,404.42 201.92,404.52 201.63,403.8 201.33,404.11 201.04,403.73 200.75,404.46 200.45,404.74 200.16,404.82 199.86,403.9 199.57,404.42 199.28,404.48 198.98,404.98 198.69,404.62 198.39,404.45 198.1,404.63" fill="#e29a80" fill-opacity="0.8" stroke="none"/>
<polyline points="198.1,403.65 198.39,403.84 198.69,403.69 198.98,404.3 199.28,403.9 199.57,403.76 199.86,403.4 200.16,403.64 200.45,404.01 200.75,403.12 201.04,403.03 201.33,403.63 201.63,403.27 201.92,403.82 202.22,403.84 202.51,403.57 202.8,402.96 203.1,403.61 203.39,402.82 203.69,402.82 203.98,402.75 204.27,403.42 204.57,399.47 204.86,404.08 205.16,403.82 205.45,403.72 205.74,402.38 206.04,403.46 206.33,403.38 206.63,403.63 206.92,403.63 207.21,403.55 207.51,403.15 207.8,403.78 208.1,403.93 208.39,403.98 208.68,403.48 208.98,403.4 209.27,405.47 209.57,403.86 209.86,403.47 210.15,402.89 210.45,403.16 210.74,403.73 211.04,403.77 211.33,403.88 211.62,403.34 211.92,403.59 212.21,402.8 212.51,402.51 212.8,402.77 213.09,402.61 213.39,402.85 213.68,403.28 213.98,402.98 214.27,403.61 214.56,404.46 214.86,403.22 215.15,403.02 215.45,403.78 215.74,403.59 216.03,403 216.33,405.95 216.62,403.88 216.92,403.34 217.21,403.16 217.5,402.39 217.8,402.98 218.09,402.42 218.39,403.7 218.68,402.43 218.97,402.77 219.27,403.23 219.56,403.84 219.86,404.42 220.15,404.24 220.44,403.28 220.74,402.8 221.03,403.01 221.33,402.39 221.62,402.64 221.91,402.99 222.21,403.06 222.5,403.27 222.8,402.38 223.09,401.67 223.38,401.16 223.68,398.91 223.97,396.12 224.27,392.96 224.56,389.76 224.85,385.39 225.15,382.85 225.44,378.57 225.74,373.8 226.03,368.9 226.32,365.65 226.62,359.21 226.91,356.35 227.21,359.44 227.5,358.07 227.79,357.9 228.09,358.05 228.38,358.53 228.68,359.58 228.97,359.57 229.26,360.28 229.56,360.83 229.85,364.53 230.15,362.96 230.44,363.64 230.73,364.2 231.03,364.3 231.32,365.64 231.62,366.29 231.91,361.97 232.2,366.54 232.5,366.91 232.79,364.42 233.09,370.37 233.38,369.34 233.67,369.43 233.97,369.82 234.26,370.63 234.56,372.1 234.85,372.01 235.14,373.26 235.44,373.81 235.73,375.17 236.03,376.36 236.32,377.1 236.61,377.55 236.91,377.28 237.2,377.3 237.5,377.61 237.79,378.54 238.08,378.52 238.38,379.53 238.67,379.36 238.97,379.62 239.26,380.24 239.55,380.77 239.85,381.67 240.14,381.37 240.44,381.99 240.73,382.03 241.02,381.35 241.32,381.01 241.61,381.45 241.91,380.94 242.2,381.89 242.49,383.11 242.79,384.29 243.08,391.35 243.38,384.37 243.67,383.77 243.96,383.93 244.26,384.23 244.55,385.09 244.85,385.28 245.14,385.81 245.43,386.31 245.73,386.3 246.02,385.24 246.32,385.84 246.61,386.32 246.9,386.03 247.2,386.34 247.49,386.7 247.79,386.59 248.08,386.54 248.37,386.62 248.67,387.04 248.96,386.46 249.26,387.03 249.55,383.15 249.84,388.17 250.14,388.43 250.43,387.95 250.73,388.84 251.02,389.4 251.31,388.82 251.61,389.22 251.9,389.58 252.2,389.01 252.49,389.73 252.78,389.05 253.08,389.34 253.37,389.76 253.67,389.84 253.96,390.49 254.25,389.56 254.55,389.01 254.84,389.63 255.14,389.17 255.43,390.5 255.72,390.24 256.02,389.86 256.31,390.38 256.61,390.09 256.9,390.48 257.19,390.28 257.49,389.93 257.78,390.27 258.08,389.87 258.37,390.25 258.66,389.99 258.96,391.02 259.25,391.14 259.55,391.52 259.84,390.44 260.13,390.59 260.43,391.56 260.72,392.28 261.02,392.14 261.31,391.92 261.6,392.07 261.9,391.48 262.19,391.36 262.49,391.79 262.78,391.54 263.07,391.08 263.37,391.66 263.66,391.39 263.96,391.75 264.25,396.09 264.54,392.04 264.84,392.12 265.13,387.39 265.43,391.32 265.72,391.84 266.01,392.08 266.31,392.58 266.6,392.44 266.9,392.36 267.19,392.11 267.48,392.9 267.78,392.33 268.07,391.89 268.37,391.85 268.66,392 268.95,392.81 269.25,392.97 269.54,393.25 269.84,393.02 270.13,393.62 270.42,392.54 270.72,392.18 271.01,390.95 271.31,392.38 271.6,391.99 271.89,392.54 272.19,392.04 272.48,392.12 272.78,391.86 273.07,392.38 273.36,392.62 273.66,392.53 273.95,392.19 274.25,391.57 274.54,391.22 274.83,392.02 275.13,391.55 275.42,392.26 275.72,390.13 276.01,392.68 276.3,393.46 276.6,392.8 276.89,392.29 277.19,392.91 277.48,392.59 277.77,392.94 278.07,391.59 278.36,392.07 278.66,392.82 278.95,392.62 279.24,391.99 279.54,391.87 279.83,392.43 280.13,393.33 280.42,393.41 280.71,392.52 281.01,394.69 281.3,402.09 281.6,392.95 281.89,391.45 282.18,391.44 282.48,391.7 282.77,391.19 283.07,391.93 283.36,392.07 283.65,392.02 283.95,392.9 284.24,392.72 284.54,392.72 284.83,392.99 285.12,393.23 285.42,393.04 285.71,393.3 286.01,393.24 286.3,393.4 286.59,392.48 286.89,392.38 287.18,392.14 287.48,393.3 287.77,393.23 288.06,393.34 288.36,392.65 288.65,392.99 288.95,392.56 289.24,392.75 289.53,392.67 289.83,396.35 290.12,392.38 290.42,393.11 290.71,394.07 291,395.4 291.3,391.97 291.59,392.21 291.89,393.24 292.18,392.9 292.47,392.88 292.77,393.56 293.06,392.07 293.36,392.56 293.65,393.86 293.94,393.06 294.24,393.33 294.53,393.64 294.83,392.77 295.12,392.43 295.41,392.87 295.71,393.45 296,393.65" fill="none" stroke="#a3002a" stroke-opacity="1" stroke-width="1.2" stroke-linejoin="round"/>
<polygon points="198.1,402.92 198.39,402.57 198.69,402.81 198.98,402.71 199.28,402.56 199.57,402.81 199.86,402.69 200.16,402.51 200.45,403.13 200.75,403.02 201.04,403.02 201.33,402.79 201.63,402.89 201.92,402.66 202.22,402.42 202.51,402.13 202.8,402.19 203.1,402.56 203.39,402.56 203.69,402.55 203.98,402.82 204.27,402.75 204.57,402.89 204.86,402.96 205.16,402.82 205.45,402.78 205.74,402.62 206.04,402.73 206.33,403.01 206.63,402.99 206.92,402.71 207.21,402.44 207.51,402.4 207.8,402.45 208.1,402.36 208.39,402.53 208.68,402.8 208.98,402.69 209.27,403.08 209.57,402.88 209.86,402.54 210.15,402.99 210.45,402.83 210.74,402.98 211.04,402.68 211.33,402.71 211.62,402.89 211.92,402.69 212.21,402.37 212.51,402.65 212.8,402.5 213.09,402.52 213.39,402.69 213.68,402.51 213.98,403.24 214.27,402.31 214.56,402.47 214.86,402.71 215.15,402.92 215.45,402.49 215.74,402.91 216.03,403.03 216.33,402.89 216.62,402.3 216.92,402.82 217.21,402.98 217.5,402.54 217.8,402.84 218.09,402.68 218.39,402.94 218.68,402.83 218.97,402.69 219.27,402.89 219.56,403.2 219.86,403.09 220.15,403.13 220.44,402.96 220.74,403.06 221.03,402.96 221.33,402.82 221.62,402.22 221.91,402.58 222.21,402.33 222.5,402.21 222.8,402.03 223.09,401.18 223.38,400.08 223.68,397.91 223.97,395.9 224.27,391.44 224.56,388.46 224.85,384.98 225.15,380.65 225.44,376.51 225.74,371.89 226.03,368.23 226.32,364.71 226.62,361.31 226.91,359.21 227.21,357.77 227.5,357.13 227.79,356.54 228.09,356.66 228.38,357.51 228.68,357.4 228.97,358.37 229.26,359.61 229.56,360 229.85,359.93 230.15,361.02 230.44,361.75 230.73,363.63 231.03,363.74 231.32,365.18 231.62,365.21 231.91,366.29 232.2,367.06 232.5,367.52 232.79,368.43 233.09,368.73 233.38,369.66 233.67,369.9 233.97,370.98 234.26,370.93 234.56,371.75 234.85,371.72 235.14,372.4 235.44,373.06 235.73,373.27 236.03,373.79 236.32,374.62 236.61,375.11 236.91,375.6 237.2,376.02 237.5,375.91 237.79,376.56 238.08,376.62 238.38,377.24 238.67,377.2 238.97,378.19 239.26,378.65 239.55,377.91 239.85,378.87 240.14,379.58 240.44,380.11 240.73,380.51 241.02,380.45 241.32,380.92 241.61,380.43 241.91,380.59 242.2,381.26 242.49,381.45 242.79,382.13 243.08,381.86 243.38,382.28 243.67,382.77 243.96,383.31 244.26,382.84 244.55,383.48 244.85,383.44 245.14,383.75 245.43,383.5 245.73,384.43 246.02,384.38 246.32,384.32 246.61,384.52 246.9,384.45 247.2,384.26 247.49,385.27 247.79,385.73 248.08,385.78 248.37,385.8 248.67,385.5 248.96,386.14 249.26,385.79 249.55,386.75 249.84,386.46 250.14,386.73 250.43,386.7 250.73,386.92 251.02,386.21 251.31,387.23 251.61,387.03 251.9,387.27 252.2,387.92 252.49,387.37 252.78,386.91 253.08,387.6 253.37,388.08 253.67,388.4 253.96,387.85 254.25,387.63 254.55,387.24 254.84,388.1 255.14,388.08 255.43,388.15 255.72,387.79 256.02,388.12 256.31,387.94 256.61,388.2 256.9,388.8 257.19,388.83 257.49,389.34 257.78,389.07 258.08,389.29 258.37,389.37 258.66,389.43 258.96,389.24 259.25,389.78 259.55,388.48 259.84,389.3 260.13,389.89 260.43,389.36 260.72,388.63 261.02,389.55 261.31,390 261.6,389.68 261.9,389.22 262.19,389.89 262.49,389.93 262.78,389.92 263.07,390.41 263.37,390.16 263.66,390.33 263.96,390.56 264.25,390.13 264.54,390.11 264.84,389.68 265.13,389.9 265.43,390.13 265.72,390 266.01,390.29 266.31,390.59 266.6,389.68 266.9,391.03 267.19,390.4 267.48,390.59 267.78,390.23 268.07,390.16 268.37,389.97 268.66,390.35 268.95,390 269.25,390.95 269.54,390.88 269.84,389.87 270.13,390.54 270.42,390.44 270.72,390.76 271.01,391.17 271.31,390.25 271.6,390.48 271.89,390.95 272.19,390.56 272.48,391.19 272.78,390.64 273.07,390.98 273.36,390.21 273.66,391.2 273.95,391.16 274.25,391.32 274.54,390.78 274.83,390.85 275.13,391.19 275.42,391.29 275.72,391.52 276.01,390.88 276.3,391.11 276.6,390.86 276.89,391.31 277.19,391.57 277.48,391.54 277.77,390.86 278.07,391.33 278.36,390.71 278.66,390.75 278.95,391.02 279.24,390.52 279.54,391.23 279.83,391.29 280.13,390.92 280.42,390.26 280.71,390.79 281.01,391.27 281.3,390.97 281.6,391.39 281.89,391.11 282.18,391.17 282.48,391.31 282.77,391.35 283.07,391.59 283.36,391.56 283.65,391.13 283.95,391.43 284.24,390.64 284.54,391.01 284.83,390.68 285.12,391.5 285.42,391.63 285.71,391.59 286.01,391.7 286.3,391.39 286.59,391.45 286.89,391.06 287.18,391.49 287.48,391.26 287.77,391.21 288.06,390.94 288.36,391.16 288.65,391.32 288.95,391.64 289.24,391.31 289.53,390.75 289.83,390.96 290.12,391.11 290.42,390.87 290.71,390.78 291,391.18 291.3,391.09 291.59,391.18 291.89,391.37 292.18,391.46 292.47,390.54 292.77,391.11 293.06,390.79 293.36,391.19 293.65,391.49 293.94,391.35 294.24,391.57 294.53,391.34 294.83,390.92 295.12,390.61 295.41,391.11 295.71,390.67 296,391.22 296,394 295.71,393.93 295.41,393.82 295.12,394.17 294.83,394.35 294.53,393.95 294.24,394.32 293.94,394.58 293.65,394.84 293.36,393.88 293.06,393.99 292.77,394.67 292.47,394.17 292.18,394.02 291.89,394.5 291.59,394.23 291.3,394.14 291,394.27 290.71,394.49 290.42,394.08 290.12,394.14 289.83,394.36 289.53,394.32 289.24,393.98 288.95,394.43 288.65,394.4 288.36,394.35 288.06,393.83 287.77,393.93 287.48,394.1 287.18,394.78 286.89,394.87 286.59,394.35 286.3,394.45 286.01,394.29 285.71,394.18 285.42,394.54 285.12,394.23 284.83,394.23 284.54,394.62 284.24,393.76 283.95,394 283.65,394.33 283.36,394.73 283.07,394.15 282.77,394.5 282.48,394.52 282.18,394.21 281.89,394 281.6,394.61 281.3,394.14 281.01,394.03 280.71,394.27 280.42,394.13 280.13,394.37 279.83,394.14 279.54,393.98 279.24,394.39 278.95,394.31 278.66,394 278.36,394.09 278.07,394.64 277.77,394.1 277.48,394.43 277.19,394.27 276.89,394.17 276.6,393.78 276.3,393.97 276.01,394.07 275.72,394.91 275.42,393.8 275.13,393.94 274.83,393.94 274.54,394.46 274.25,393.85 273.95,393.66 273.66,393.81 273.36,393.49 273.07,393.88 272.78,393.41 272.48,393.93 272.19,393.7 271.89,393.58 271.6,393.64 271.31,393.72 271.01,393.96 270.72,393.37 270.42,394.1 270.13,393.58 269.84,393.26 269.54,393.8 269.25,394.46 268.95,393.42 268.66,393.42 268.37,393.15 268.07,392.67 267.78,394.04 267.48,393.88 267.19,393.7 266.9,393.58 266.6,393.5 266.31,393.12 266.01,393.4 265.72,393.61 265.43,393.44 265.13,393.42 264.84,393.02 264.54,393.02 264.25,393.22 263.96,394.21 263.66,393.23 263.37,393.3 263.07,393.42 262.78,392.93 262.49,392.97 262.19,392.63 261.9,392.62 261.6,392.42 261.31,393.6 261.02,392.99 260.72,393.12 260.43,392.61 260.13,392.79 259.84,392.77 259.55,392.23 259.25,392.75 258.96,392.26 258.66,392.44 258.37,392.87 258.08,391.98 257.78,391.84 257.49,391.98 257.19,391.67 256.9,392.04 256.61,391.42 256.31,391.02 256.02,391.19 255.72,391 255.43,391.13 255.14,391.1 254.84,390.68 254.55,390.44 254.25,390.89 253.96,390.99 253.67,391.3 253.37,391.03 253.08,391.57 252.78,390.81 252.49,390.66 252.2,390.6 251.9,390.49 251.61,390.15 251.31,390.05 251.02,390.19 250.73,389.71 250.43,389.33 250.14,389.99 249.84,389.47 249.55,389.31 249.26,389.68 248.96,389.25 248.67,389.22 248.37,388.65 248.08,388.36 247.79,388.44 247.49,388.2 247.2,387.77 246.9,387.48 246.61,387.08 246.32,387.28 246.02,387.33 245.73,387.89 245.43,386.68 245.14,386.82 244.85,386.2 244.55,386.05 244.26,385.8 243.96,385.92 243.67,385.39 243.38,385.07 243.08,384.75 242.79,384.84 242.49,384.64 242.2,384 241.91,384.11 241.61,384.08 241.32,383.65 241.02,383.36 240.73,383.1 240.44,382.6 240.14,382.84 239.85,382.54 239.55,381.88 239.26,381.66 238.97,381.01 238.67,380.19 238.38,380.4 238.08,380.17 237.79,379.03 237.5,379.42 237.2,379.34 236.91,378.24 236.61,377.82 236.32,377.07 236.03,376.76 235.73,376.21 235.44,375.88 235.14,374.97 234.85,374.88 234.56,374.68 234.26,374.21 233.97,373.58 233.67,373.27 233.38,372.04 233.09,372.16 232.79,371.42 232.5,370.65 232.2,369.69 231.91,369.06 231.62,368.12 231.32,368.17 231.03,366.59 230.73,366.59 230.44,366.2 230.15,364.37 229.85,363.63 229.56,363.01 229.26,362.71 228.97,361.6 228.68,360.68 228.38,359.96 228.09,359.3 227.79,359.63 227.5,360.24 227.21,360.81 226.91,362.19 226.62,364.52 226.32,368.22 226.03,371.17 225.74,375 225.44,379.08 225.15,383.12 224.85,388.05 224.56,391.63 224.27,394.45 223.97,397.13 223.68,399.16 223.38,401.48 223.09,402.28 222.8,403.52 222.5,403.79 222.21,403.74 221.91,404.24 221.62,403.66 221.33,404.5 221.03,404.17 220.74,404.21 220.44,404.31 220.15,404.48 219.86,404.4 219.56,404.44 219.27,403.95 218.97,403.76 218.68,403.94 218.39,404.23 218.09,404.16 217.8,404.02 217.5,404.12 217.21,404.1 216.92,404.25 216.62,404.01 216.33,404 216.03,404.21 215.74,404.14 215.45,403.87 215.15,404.4 214.86,403.84 214.56,403.59 214.27,403.71 213.98,404.47 213.68,404.37 213.39,404.13 213.09,403.56 212.8,403.66 212.51,404.03 212.21,404.01 211.92,403.87 211.62,403.94 211.33,403.76 211.04,404.12 210.74,404.1 210.45,404.12 210.15,404.29 209.86,403.99 209.57,403.99 209.27,404.15 208.98,403.96 208.68,403.82 208.39,403.97 208.1,403.63 207.8,403.75 207.51,404.07 207.21,403.96 206.92,403.93 206.63,404.1 206.33,404.08 206.04,403.92 205.74,404.11 205.45,404.09 205.16,403.78 204.86,404.19 204.57,404.15 204.27,403.96 203.98,404 203.69,403.67 203.39,404.04 203.1,404.16 202.8,403.65 202.51,403.51 202.22,404.19 201.92,404.04 201.63,404.03 201.33,403.98 201.04,404.04 200.75,404.38 200.45,404.61 200.16,403.92 199.86,404.05 199.57,403.93 199.28,404.21 198.98,404.05 198.69,403.82 198.39,403.64 198.1,403.95" fill="#8e9dcb" fill-opacity="0.7" stroke="none"/>
<polyline points="198.1,403.43 198.39,403.11 198.69,403.3 198.98,403.35 199.28,403.33 199.57,403.35 199.86,403.21 200.16,403.1 200.45,403.74 200.75,403.68 201.04,403.56 201.33,403.4 201.63,403.52 201.92,403.32 202.22,403.22 202.51,402.92 202.8,402.98 203.1,403.16 203.39,403.16 203.69,403.03 203.98,403.35 204.27,403.49 204.57,403.4 204.86,403.63 205.16,403.29 205.45,403.37 205.74,403.41 206.04,403.32 206.33,403.48 206.63,403.55 206.92,403.46 207.21,403.43 207.51,403.16 207.8,403.15 208.1,402.99 208.39,403.04 208.68,403.33 208.98,403.49 209.27,403.65 209.57,403.36 209.86,403.14 210.15,403.48 210.45,403.42 210.74,403.5 211.04,403.29 211.33,403.28 211.62,403.48 211.92,403.32 212.21,403.36 212.51,403.56 212.8,403.06 213.09,403.05 213.39,403.61 213.68,403.71 213.98,403.83 214.27,403.15 214.56,403.04 214.86,403.31 215.15,403.58 215.45,403.23 215.74,403.53 216.03,403.51 216.33,403.53 216.62,403.54 216.92,403.35 217.21,403.53 217.5,403.32 217.8,403.38 218.09,403.62 218.39,403.45 218.68,403.45 218.97,403.21 219.27,403.44 219.56,403.68 219.86,403.56 220.15,403.75 220.44,403.52 220.74,403.66 221.03,403.53 221.33,403.59 221.62,403.16 221.91,403.31 222.21,403.23 222.5,402.99 222.8,402.92 223.09,401.8 223.38,400.95 223.68,398.66 223.97,396.41 224.27,392.98 224.56,390.02 224.85,386.17 225.15,381.82 225.44,377.78 225.74,373.41 226.03,369.56 226.32,366.09 226.62,362.99 226.91,360.92 227.21,359.22 227.5,358.41 227.79,358.18 228.09,358.13 228.38,358.7 228.68,359.09 228.97,359.77 229.26,360.78 229.56,361.55 229.85,362.14 230.15,362.99 230.44,364.11 230.73,364.89 231.03,365.41 231.32,366.35 231.62,366.93 231.91,367.5 232.2,368.28 232.5,369.17 232.79,369.75 233.09,370.38 233.38,370.86 233.67,371.73 233.97,372.32 234.26,372.45 234.56,373.07 234.85,373.35 235.14,373.67 235.44,374.32 235.73,374.88 236.03,375.53 236.32,375.78 236.61,376.56 236.91,376.79 237.2,377.43 237.5,377.62 237.79,377.81 238.08,378.42 238.38,378.63 238.67,378.84 238.97,379.43 239.26,380.01 239.55,380 239.85,380.69 240.14,380.84 240.44,381.4 240.73,381.77 241.02,381.85 241.32,382.25 241.61,382.4 241.91,382.88 242.2,382.8 242.49,383.43 242.79,383.47 243.08,383.5 243.38,383.86 243.67,384.01 243.96,384.65 244.26,384.56 244.55,384.85 244.85,384.96 245.14,385 245.43,385.09 245.73,385.69 246.02,385.74 246.32,385.77 246.61,385.91 246.9,386.24 247.2,386.28 247.49,386.45 247.79,386.97 248.08,387.17 248.37,387.28 248.67,387.38 248.96,387.46 249.26,387.87 249.55,387.99 249.84,387.96 250.14,388.16 250.43,388.05 250.73,388.23 251.02,388.01 251.31,388.57 251.61,388.39 251.9,388.99 252.2,389.09 252.49,388.87 252.78,389.16 253.08,389.31 253.37,389.55 253.67,389.73 253.96,389.66 254.25,389.46 254.55,389.26 254.84,389.46 255.14,389.29 255.43,389.43 255.72,389.82 256.02,389.77 256.31,389.74 256.61,390.22 256.9,390.34 257.19,390.4 257.49,390.69 257.78,390.53 258.08,390.58 258.37,390.98 258.66,390.66 258.96,390.75 259.25,391.02 259.55,390.84 259.84,391.07 260.13,391.35 260.43,391.28 260.72,391.2 261.02,391.2 261.31,391.5 261.6,391.08 261.9,391.13 262.19,391.22 262.49,391.41 262.78,391.44 263.07,391.84 263.37,391.83 263.66,391.63 263.96,391.76 264.25,391.96 264.54,391.86 264.84,391.84 265.13,391.87 265.43,391.61 265.72,391.9 266.01,392.02 266.31,391.95 266.6,392.04 266.9,392.39 267.19,391.82 267.48,391.95 267.78,391.6 268.07,391.49 268.37,391.8 268.66,392.05 268.95,392.11 269.25,392.5 269.54,392.19 269.84,391.89 270.13,392.04 270.42,392.27 270.72,392.1 271.01,392.36 271.31,392.28 271.6,392.05 271.89,392.2 272.19,392.14 272.48,392.43 272.78,392.22 273.07,392.42 273.36,392.16 273.66,392.36 273.95,392.41 274.25,392.55 274.54,392.51 274.83,392.43 275.13,392.4 275.42,392.61 275.72,392.74 276.01,392.6 276.3,392.42 276.6,392.53 276.89,392.6 277.19,392.79 277.48,392.81 277.77,392.63 278.07,392.68 278.36,392.5 278.66,392.46 278.95,392.6 279.24,392.61 279.54,392.67 279.83,392.73 280.13,392.83 280.42,392.46 280.71,392.74 281.01,392.72 281.3,392.54 281.6,392.7 281.89,392.64 282.18,392.87 282.48,392.82 282.77,392.84 283.07,392.76 283.36,392.88 283.65,392.78 283.95,392.6 284.24,392.57 284.54,392.58 284.83,392.67 285.12,392.68 285.42,392.91 285.71,392.81 286.01,393.04 286.3,392.83 286.59,392.84 286.89,392.71 287.18,392.78 287.48,392.73 287.77,392.53 288.06,392.64 288.36,392.93 288.65,393.13 288.95,392.92 289.24,392.66 289.53,392.73 289.83,392.62 290.12,392.67 290.42,392.66 290.71,392.73 291,392.95 291.3,392.77 291.59,392.72 291.89,392.69 292.18,392.7 292.47,392.49 292.77,392.8 293.06,392.44 293.36,392.5 293.65,393.01 293.94,393.03 294.24,392.87 294.53,392.67 294.83,392.72 295.12,392.6 295.41,392.47 295.71,392.52 296,392.53" fill="none" stroke="#2c4c8b" stroke-opacity="1" stroke-width="2" stroke-linejoin="round"/>
<line x1="197.25" y1="331.25" x2="197.25" y2="408" stroke="#1c1c1c" stroke-width="1.1"/>
<line x1="194.25" y1="403.4" x2="197.25" y2="403.4" stroke="#1c1c1c" stroke-width="1.1"/>
<g transform="translate(191.5,406.4) scale(0.9,1)"><text x="0" y="0" font-size="8.6" text-anchor="end" fill="#262626" stroke="#262626">0</text></g>
<line x1="194.25" y1="380.2" x2="197.25" y2="380.2" stroke="#1c1c1c" stroke-width="1.1"/>
<g transform="translate(191.5,383.2) scale(0.9,1)"><text x="0" y="0" font-size="8.6" text-anchor="end" fill="#262626" stroke="#262626">50</text></g>
<line x1="194.25" y1="357" x2="197.25" y2="357" stroke="#1c1c1c" stroke-width="1.1"/>
<g transform="translate(191.5,360) scale(0.9,1)"><text x="0" y="0" font-size="8.6" text-anchor="end" fill="#262626" stroke="#262626">100</text></g>
<line x1="194.25" y1="333.8" x2="197.25" y2="333.8" stroke="#1c1c1c" stroke-width="1.1"/>
<g transform="translate(191.5,336.8) scale(0.9,1)"><text x="0" y="0" font-size="8.6" text-anchor="end" fill="#262626" stroke="#262626">150</text></g>
<line x1="196.7" y1="405.3" x2="298.5" y2="405.3" stroke="#1c1c1c" stroke-width="1.1"/>
<line x1="198.1" y1="405.3" x2="198.1" y2="408.3" stroke="#1c1c1c" stroke-width="1.1"/>
<g transform="translate(198.1,418.2) scale(0.9,1)"><text x="0" y="0" font-size="8.6" text-anchor="middle" fill="#262626" stroke="#262626">0</text></g>
<line x1="222.6" y1="405.3" x2="222.6" y2="408.3" stroke="#1c1c1c" stroke-width="1.1"/>
<g transform="translate(222.6,418.2) scale(0.9,1)"><text x="0" y="0" font-size="8.6" text-anchor="middle" fill="#262626" stroke="#262626">50</text></g>
<line x1="247.1" y1="405.3" x2="247.1" y2="408.3" stroke="#1c1c1c" stroke-width="1.1"/>
<g transform="translate(247.1,418.2) scale(0.9,1)"><text x="0" y="0" font-size="8.6" text-anchor="middle" fill="#262626" stroke="#262626">100</text></g>
<line x1="271.6" y1="405.3" x2="271.6" y2="408.3" stroke="#1c1c1c" stroke-width="1.1"/>
<g transform="translate(271.6,418.2) scale(0.9,1)"><text x="0" y="0" font-size="8.6" text-anchor="middle" fill="#262626" stroke="#262626">150</text></g>
<line x1="296.1" y1="405.3" x2="296.1" y2="408.3" stroke="#1c1c1c" stroke-width="1.1"/>
<g transform="translate(296.1,418.2) scale(0.9,1)"><text x="0" y="0" font-size="8.6" text-anchor="middle" fill="#262626" stroke="#262626">200</text></g>
<g transform="translate(248,431) scale(0.74,1)"><text x="0" y="0" font-size="9" text-anchor="middle" fill="#262626" stroke="#262626">Time (s)</text></g>
<g transform="translate(172.6,368.2) rotate(-90) scale(0.82,1)"><text x="0" y="0" font-size="9" text-anchor="middle" fill="#262626" stroke="#262626">[Ca<tspan font-size="6" dy="-3.4">2+</tspan><tspan dy="3.4">]</tspan> (nM)</text></g>
<text x="247.5" y="368.5" font-size="7.4" text-anchor="start" fill="#b0203f" stroke="#b0203f" font-weight="normal" >GRK6-/-</text>
<text x="248.5" y="377.5" font-size="7.4" text-anchor="start" fill="#2f4f8f" stroke="#2f4f8f" font-weight="normal" >WT</text>
<text x="324.3" y="180.6" font-size="10.8" text-anchor="start" fill="#111" stroke="#111" font-weight="bold" >D</text>
<line x1="368" y1="266.03" x2="368" y2="264.18" stroke="#1c1c1c" stroke-width="1"/>
<line x1="366.2" y1="264.18" x2="369.8" y2="264.18" stroke="#1c1c1c" stroke-width="1.1"/>
<line x1="378.2" y1="226.77" x2="378.2" y2="219.76" stroke="#1c1c1c" stroke-width="1"/>
<line x1="376.4" y1="219.76" x2="380" y2="219.76" stroke="#1c1c1c" stroke-width="1.1"/>
<rect x="362.9" y="266.03" width="10.2" height="27.07" fill="#2c4c8b"/>
<rect x="373.1" y="226.77" width="10.2" height="66.33" fill="#a3002a"/>
<line x1="399" y1="238.72" x2="399" y2="235.58" stroke="#1c1c1c" stroke-width="1"/>
<line x1="397.2" y1="235.58" x2="400.8" y2="235.58" stroke="#1c1c1c" stroke-width="1.1"/>
<line x1="409.2" y1="210" x2="409.2" y2="200.4" stroke="#1c1c1c" stroke-width="1"/>
<line x1="407.4" y1="200.4" x2="411" y2="200.4" stroke="#1c1c1c" stroke-width="1.1"/>
<rect x="393.9" y="238.72" width="10.2" height="54.38" fill="#2c4c8b"/>
<rect x="404.1" y="210" width="10.2" height="83.1" fill="#a3002a"/>
<line x1="430.2" y1="257.3" x2="430.2" y2="251.9" stroke="#1c1c1c" stroke-width="1"/>
<line x1="428.4" y1="251.9" x2="432" y2="251.9" stroke="#1c1c1c" stroke-width="1.1"/>
<line x1="440.4" y1="254.91" x2="440.4" y2="252.72" stroke="#1c1c1c" stroke-width="1"/>
<line x1="438.6" y1="252.72" x2="442.2" y2="252.72" stroke="#1c1c1c" stroke-width="1.1"/>
<rect x="425.1" y="257.3" width="10.2" height="35.8" fill="#2c4c8b"/>
<rect x="435.3" y="254.91" width="10.2" height="38.19" fill="#a3002a"/>
<line x1="461.1" y1="252.39" x2="461.1" y2="252.11" stroke="#1c1c1c" stroke-width="1"/>
<line x1="459.3" y1="252.11" x2="462.9" y2="252.11" stroke="#1c1c1c" stroke-width="1.1"/>
<line x1="471.3" y1="253.96" x2="471.3" y2="249.43" stroke="#1c1c1c" stroke-width="1"/>
<line x1="469.5" y1="249.43" x2="473.1" y2="249.43" stroke="#1c1c1c" stroke-width="1.1"/>
<rect x="456" y="252.39" width="10.2" height="40.71" fill="#2c4c8b"/>
<rect x="466.2" y="253.96" width="10.2" height="39.14" fill="#a3002a"/>
<line x1="492.1" y1="261.99" x2="492.1" y2="255.61" stroke="#1c1c1c" stroke-width="1"/>
<line x1="490.3" y1="255.61" x2="493.9" y2="255.61" stroke="#1c1c1c" stroke-width="1.1"/>
<line x1="502.3" y1="254.99" x2="502.3" y2="247.78" stroke="#1c1c1c" stroke-width="1"/>
<line x1="500.5" y1="247.78" x2="504.1" y2="247.78" stroke="#1c1c1c" stroke-width="1.1"/>
<rect x="487" y="261.99" width="10.2" height="31.11" fill="#2c4c8b"/>
<rect x="497.2" y="254.99" width="10.2" height="38.11" fill="#a3002a"/>
<line x1="357.5" y1="187.5" x2="357.5" y2="293.6" stroke="#1c1c1c" stroke-width="1.1"/>
<line x1="354.5" y1="293.1" x2="357.5" y2="293.1" stroke="#1c1c1c" stroke-width="1.1"/>
<g transform="translate(352.2,296.1) scale(0.9,1)"><text x="0" y="0" font-size="8.4" text-anchor="end" fill="#262626" stroke="#262626">0</text></g>
<line x1="354.5" y1="272.5" x2="357.5" y2="272.5" stroke="#1c1c1c" stroke-width="1.1"/>
<g transform="translate(352.2,275.5) scale(0.9,1)"><text x="0" y="0" font-size="8.4" text-anchor="end" fill="#262626" stroke="#262626">50</text></g>
<line x1="354.5" y1="251.9" x2="357.5" y2="251.9" stroke="#1c1c1c" stroke-width="1.1"/>
<g transform="translate(352.2,254.9) scale(0.9,1)"><text x="0" y="0" font-size="8.4" text-anchor="end" fill="#262626" stroke="#262626">100</text></g>
<line x1="354.5" y1="231.3" x2="357.5" y2="231.3" stroke="#1c1c1c" stroke-width="1.1"/>
<g transform="translate(352.2,234.3) scale(0.9,1)"><text x="0" y="0" font-size="8.4" text-anchor="end" fill="#262626" stroke="#262626">150</text></g>
<line x1="354.5" y1="210.7" x2="357.5" y2="210.7" stroke="#1c1c1c" stroke-width="1.1"/>
<g transform="translate(352.2,213.7) scale(0.9,1)"><text x="0" y="0" font-size="8.4" text-anchor="end" fill="#262626" stroke="#262626">200</text></g>
<line x1="354.5" y1="190.1" x2="357.5" y2="190.1" stroke="#1c1c1c" stroke-width="1.1"/>
<g transform="translate(352.2,193.1) scale(0.9,1)"><text x="0" y="0" font-size="8.4" text-anchor="end" fill="#262626" stroke="#262626">250</text></g>
<line x1="357" y1="293.1" x2="512.6" y2="293.1" stroke="#1c1c1c" stroke-width="1.1"/>
<path d="M368 194.6V191H379V194.6" fill="none" stroke="#222" stroke-width="1.2" stroke-linejoin="miter" stroke-linecap="butt"/>
<rect x="369.7" y="186.4" width="1.8" height="1.6" fill="#333"/>
<rect x="372.6" y="186.4" width="1.8" height="1.6" fill="#333"/>
<rect x="375.5" y="186.4" width="1.8" height="1.6" fill="#333"/>
<path d="M399 194.6V191H410.8V194.6" fill="none" stroke="#222" stroke-width="1.2" stroke-linejoin="miter" stroke-linecap="butt"/>
<rect x="401.1" y="186.4" width="1.8" height="1.6" fill="#333"/>
<rect x="404" y="186.4" width="1.8" height="1.6" fill="#333"/>
<rect x="406.9" y="186.4" width="1.8" height="1.6" fill="#333"/>
<path d="M429.5 239.6V236H441.5V239.6" fill="none" stroke="#222" stroke-width="1.2" stroke-linejoin="miter" stroke-linecap="butt"/>
<text x="435.5" y="233" font-size="7.3" text-anchor="middle" fill="#262626" stroke="#262626" font-weight="normal" >ns</text>
<path d="M460.4 239.6V236H472.7V239.6" fill="none" stroke="#222" stroke-width="1.2" stroke-linejoin="miter" stroke-linecap="butt"/>
<text x="466.55" y="233" font-size="7.3" text-anchor="middle" fill="#262626" stroke="#262626" font-weight="normal" >ns</text>
<path d="M491.2 239.1V235.5H503V239.1" fill="none" stroke="#222" stroke-width="1.2" stroke-linejoin="miter" stroke-linecap="butt"/>
<text x="497.1" y="233" font-size="7.3" text-anchor="middle" fill="#262626" stroke="#262626" font-weight="normal" >ns</text>
<g transform="translate(377.6,299.5) rotate(-45)"><text x="0" y="0" font-size="7.8" text-anchor="end" fill="#262626" stroke="#262626">PAR4-AP(100&#956;M)</text></g>
<g transform="translate(408.6,299.5) rotate(-45)"><text x="0" y="0" font-size="7.8" text-anchor="end" fill="#262626" stroke="#262626">PAR4-AP(200&#956;M)</text></g>
<g transform="translate(439.8,299.5) rotate(-45)"><text x="0" y="0" font-size="7.8" text-anchor="end" fill="#262626" stroke="#262626">ADP(10&#956;M)</text></g>
<g transform="translate(470.7,299.5) rotate(-45)"><text x="0" y="0" font-size="7.8" text-anchor="end" fill="#262626" stroke="#262626">U46619(2 &#956;M)</text></g>
<g transform="translate(501.7,299.5) rotate(-45)"><text x="0" y="0" font-size="7.8" text-anchor="end" fill="#262626" stroke="#262626">CVX(0.1&#956;g/ml)</text></g>
<g transform="translate(332.5,236.6) rotate(-90) scale(0.84,1)"><text x="0" y="0" font-size="8.2" text-anchor="middle" fill="#262626" stroke="#262626">&#916; [Calcium] (nM)</text></g>
<rect x="458.1" y="184.8" width="11.9" height="5.8" fill="#2c4c8b"/>
<rect x="458.1" y="195.9" width="11.9" height="5.7" fill="#a3002a"/>
<text x="473.1" y="189.8" font-size="7.4" text-anchor="start" fill="#2f4f8f" stroke="#2f4f8f" font-weight="normal" >WT</text>
<text x="473.1" y="200.9" font-size="7.4" text-anchor="start" fill="#b0203f" stroke="#b0203f" font-weight="normal" >GRK6-/-</text>
<rect x="0" y="0" width="520" height="1" fill="#111"/>
<rect x="0" y="0" width="1" height="440" fill="#111"/>
<rect x="518.8" y="0" width="1.2" height="440" fill="#111"/>
<rect x="0" y="438.7" width="520" height="1.3" fill="#111"/>
</svg>
</body></html>
